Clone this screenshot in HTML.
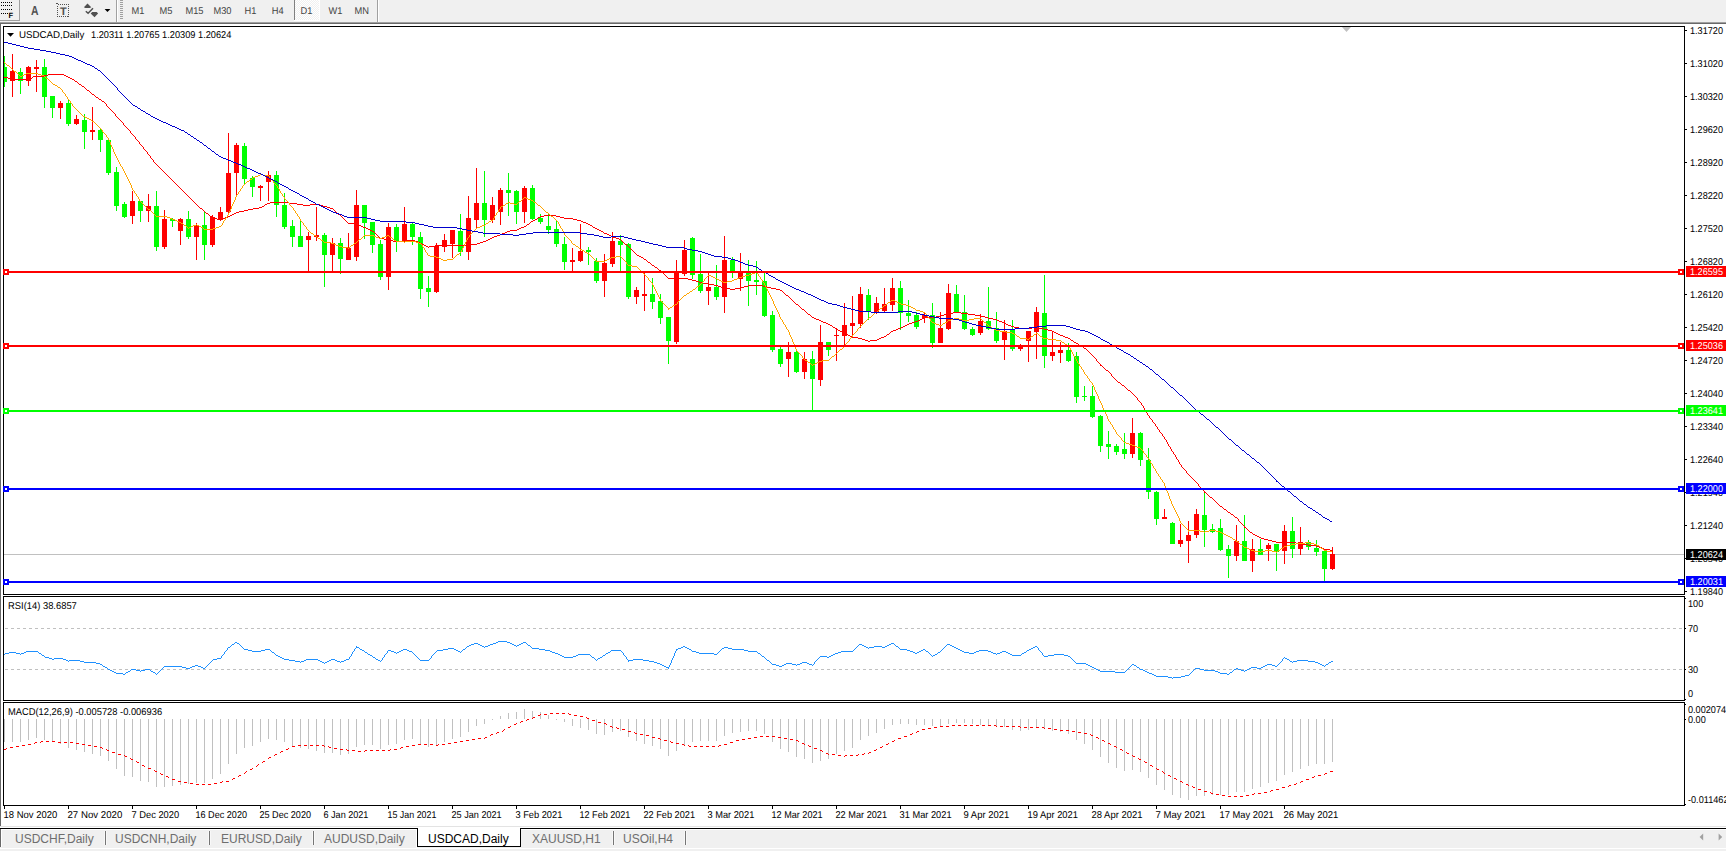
<!DOCTYPE html>
<html lang="en"><head><meta charset="utf-8"><title>USDCAD,Daily</title>
<style>
html,body{margin:0;padding:0;background:#fff;}
body{width:1726px;height:851px;overflow:hidden;position:relative;font-family:"Liberation Sans", Arial, sans-serif;}
#tb{position:absolute;left:0;top:0;width:1726px;height:22px;background:#f0f0f0;}
#tb .tf{position:absolute;top:5px;font-size:9.33px;line-height:11px;color:#4d4d4d;white-space:nowrap;}
#tabs{position:absolute;left:0;top:829px;width:1726px;height:22px;background:#f0f0f0;}
#tabs .t{position:absolute;top:3px;font-size:12px;line-height:14px;color:#6e6e6e;white-space:nowrap;}
#tabs .sep{position:absolute;top:2px;width:1px;height:14px;background:#757575;box-shadow:-1px 0 0 #f8f8f8,1px 0 0 #f8f8f8;}
svg{position:absolute;left:0;top:0;}
svg text{font-family:"Liberation Sans", Arial, sans-serif;font-size:9.9px;fill:#000;text-rendering:geometricPrecision;}
</style></head><body>
<svg width="1726" height="851" viewBox="0 0 1726 851" shape-rendering="crispEdges">
<rect x="0" y="22" width="1726" height="1" fill="#a0a0a0"/>
<rect x="0" y="23" width="1726" height="1" fill="#696969"/>
<rect x="0" y="24" width="1" height="802" fill="#696969"/>
<rect x="3" y="26" width="1682" height="1" fill="#000"/>
<rect x="3" y="594" width="1682" height="1" fill="#000"/>
<rect x="3" y="26" width="1" height="569" fill="#000"/>
<rect x="1684" y="26" width="1" height="569" fill="#000"/>
<rect x="3" y="596" width="1682" height="1" fill="#000"/>
<rect x="3" y="700" width="1682" height="1" fill="#000"/>
<rect x="3" y="596" width="1" height="105" fill="#000"/>
<rect x="1684" y="596" width="1" height="105" fill="#000"/>
<rect x="3" y="702" width="1682" height="1" fill="#000"/>
<rect x="3" y="805" width="1682" height="1" fill="#000"/>
<rect x="3" y="702" width="1" height="104" fill="#000"/>
<rect x="1684" y="702" width="1" height="104" fill="#000"/>
<polygon points="1342,27 1351,27 1346.5,32" fill="#c0c0c0" shape-rendering="auto"/>
<defs><clipPath id="cm"><rect x="4" y="27" width="1680" height="567"/></clipPath></defs>
<g clip-path="url(#cm)">
<rect x="4" y="554" width="1680" height="1" fill="#c0c0c0"/>
<rect x="4" y="56" width="1" height="31" fill="#00ff00"/>
<rect x="2" y="67" width="5" height="15" fill="#00ff00"/>
<rect x="12" y="54" width="1" height="43" fill="#ff0000"/>
<rect x="10" y="71" width="5" height="10" fill="#ff0000"/>
<rect x="20" y="68" width="1" height="26" fill="#00ff00"/>
<rect x="18" y="72" width="5" height="9" fill="#00ff00"/>
<rect x="28" y="66" width="1" height="20" fill="#ff0000"/>
<rect x="26" y="67" width="5" height="14" fill="#ff0000"/>
<rect x="36" y="60" width="1" height="32" fill="#ff0000"/>
<rect x="34" y="67" width="5" height="2" fill="#ff0000"/>
<rect x="44" y="59" width="1" height="49" fill="#00ff00"/>
<rect x="42" y="67" width="5" height="30" fill="#00ff00"/>
<rect x="52" y="96" width="1" height="22" fill="#00ff00"/>
<rect x="50" y="96" width="5" height="12" fill="#00ff00"/>
<rect x="60" y="101" width="1" height="18" fill="#ff0000"/>
<rect x="58" y="103" width="5" height="5" fill="#ff0000"/>
<rect x="68" y="100" width="1" height="26" fill="#00ff00"/>
<rect x="66" y="103" width="5" height="21" fill="#00ff00"/>
<rect x="76" y="115" width="1" height="10" fill="#ff0000"/>
<rect x="74" y="119" width="5" height="5" fill="#ff0000"/>
<rect x="84" y="114" width="1" height="35" fill="#00ff00"/>
<rect x="82" y="120" width="5" height="12" fill="#00ff00"/>
<rect x="92" y="107" width="1" height="33" fill="#ff0000"/>
<rect x="90" y="130" width="5" height="2" fill="#ff0000"/>
<rect x="100" y="129" width="1" height="23" fill="#00ff00"/>
<rect x="98" y="130" width="5" height="10" fill="#00ff00"/>
<rect x="108" y="140" width="1" height="35" fill="#00ff00"/>
<rect x="106" y="140" width="5" height="33" fill="#00ff00"/>
<rect x="116" y="167" width="1" height="44" fill="#00ff00"/>
<rect x="114" y="172" width="5" height="34" fill="#00ff00"/>
<rect x="124" y="202" width="1" height="16" fill="#00ff00"/>
<rect x="122" y="204" width="5" height="13" fill="#00ff00"/>
<rect x="132" y="191" width="1" height="33" fill="#ff0000"/>
<rect x="130" y="201" width="5" height="15" fill="#ff0000"/>
<rect x="140" y="201" width="1" height="21" fill="#00ff00"/>
<rect x="138" y="201" width="5" height="10" fill="#00ff00"/>
<rect x="148" y="194" width="1" height="28" fill="#ff0000"/>
<rect x="146" y="206" width="5" height="5" fill="#ff0000"/>
<rect x="156" y="191" width="1" height="60" fill="#00ff00"/>
<rect x="154" y="206" width="5" height="41" fill="#00ff00"/>
<rect x="164" y="210" width="1" height="39" fill="#ff0000"/>
<rect x="162" y="219" width="5" height="28" fill="#ff0000"/>
<rect x="172" y="218" width="1" height="9" fill="#00ff00"/>
<rect x="170" y="219" width="5" height="2" fill="#00ff00"/>
<rect x="180" y="218" width="1" height="27" fill="#ff0000"/>
<rect x="178" y="219" width="5" height="12" fill="#ff0000"/>
<rect x="188" y="211" width="1" height="28" fill="#00ff00"/>
<rect x="186" y="219" width="5" height="18" fill="#00ff00"/>
<rect x="196" y="223" width="1" height="37" fill="#ff0000"/>
<rect x="194" y="225" width="5" height="12" fill="#ff0000"/>
<rect x="204" y="212" width="1" height="48" fill="#00ff00"/>
<rect x="202" y="225" width="5" height="20" fill="#00ff00"/>
<rect x="212" y="215" width="1" height="32" fill="#ff0000"/>
<rect x="210" y="217" width="5" height="28" fill="#ff0000"/>
<rect x="220" y="207" width="1" height="14" fill="#ff0000"/>
<rect x="218" y="212" width="5" height="7" fill="#ff0000"/>
<rect x="228" y="133" width="1" height="80" fill="#ff0000"/>
<rect x="226" y="173" width="5" height="39" fill="#ff0000"/>
<rect x="236" y="143" width="1" height="54" fill="#ff0000"/>
<rect x="234" y="145" width="5" height="28" fill="#ff0000"/>
<rect x="244" y="143" width="1" height="41" fill="#00ff00"/>
<rect x="242" y="146" width="5" height="33" fill="#00ff00"/>
<rect x="252" y="176" width="1" height="21" fill="#00ff00"/>
<rect x="250" y="178" width="5" height="9" fill="#00ff00"/>
<rect x="260" y="185" width="1" height="16" fill="#ff0000"/>
<rect x="258" y="186" width="5" height="2" fill="#ff0000"/>
<rect x="268" y="171" width="1" height="30" fill="#ff0000"/>
<rect x="266" y="175" width="5" height="7" fill="#ff0000"/>
<rect x="276" y="171" width="1" height="46" fill="#00ff00"/>
<rect x="274" y="175" width="5" height="30" fill="#00ff00"/>
<rect x="284" y="193" width="1" height="36" fill="#00ff00"/>
<rect x="282" y="205" width="5" height="22" fill="#00ff00"/>
<rect x="292" y="220" width="1" height="27" fill="#00ff00"/>
<rect x="290" y="226" width="5" height="11" fill="#00ff00"/>
<rect x="300" y="221" width="1" height="26" fill="#00ff00"/>
<rect x="298" y="236" width="5" height="11" fill="#00ff00"/>
<rect x="308" y="232" width="1" height="39" fill="#ff0000"/>
<rect x="306" y="236" width="5" height="4" fill="#ff0000"/>
<rect x="316" y="207" width="1" height="34" fill="#ff0000"/>
<rect x="314" y="235" width="5" height="2" fill="#ff0000"/>
<rect x="324" y="233" width="1" height="54" fill="#00ff00"/>
<rect x="322" y="235" width="5" height="20" fill="#00ff00"/>
<rect x="332" y="238" width="1" height="33" fill="#ff0000"/>
<rect x="330" y="243" width="5" height="12" fill="#ff0000"/>
<rect x="340" y="238" width="1" height="36" fill="#00ff00"/>
<rect x="338" y="243" width="5" height="16" fill="#00ff00"/>
<rect x="348" y="233" width="1" height="27" fill="#ff0000"/>
<rect x="346" y="248" width="5" height="12" fill="#ff0000"/>
<rect x="356" y="190" width="1" height="71" fill="#ff0000"/>
<rect x="354" y="205" width="5" height="52" fill="#ff0000"/>
<rect x="364" y="205" width="1" height="34" fill="#00ff00"/>
<rect x="362" y="205" width="5" height="18" fill="#00ff00"/>
<rect x="372" y="222" width="1" height="31" fill="#00ff00"/>
<rect x="370" y="222" width="5" height="23" fill="#00ff00"/>
<rect x="380" y="240" width="1" height="40" fill="#00ff00"/>
<rect x="378" y="244" width="5" height="33" fill="#00ff00"/>
<rect x="388" y="223" width="1" height="67" fill="#ff0000"/>
<rect x="386" y="227" width="5" height="50" fill="#ff0000"/>
<rect x="396" y="224" width="1" height="28" fill="#00ff00"/>
<rect x="394" y="227" width="5" height="14" fill="#00ff00"/>
<rect x="404" y="207" width="1" height="35" fill="#ff0000"/>
<rect x="402" y="224" width="5" height="17" fill="#ff0000"/>
<rect x="412" y="222" width="1" height="23" fill="#00ff00"/>
<rect x="410" y="224" width="5" height="13" fill="#00ff00"/>
<rect x="420" y="232" width="1" height="67" fill="#00ff00"/>
<rect x="418" y="237" width="5" height="52" fill="#00ff00"/>
<rect x="428" y="276" width="1" height="31" fill="#00ff00"/>
<rect x="426" y="288" width="5" height="4" fill="#00ff00"/>
<rect x="436" y="243" width="1" height="50" fill="#ff0000"/>
<rect x="434" y="246" width="5" height="46" fill="#ff0000"/>
<rect x="444" y="234" width="1" height="18" fill="#ff0000"/>
<rect x="442" y="240" width="5" height="7" fill="#ff0000"/>
<rect x="452" y="230" width="1" height="28" fill="#ff0000"/>
<rect x="450" y="230" width="5" height="14" fill="#ff0000"/>
<rect x="460" y="214" width="1" height="42" fill="#00ff00"/>
<rect x="458" y="231" width="5" height="21" fill="#00ff00"/>
<rect x="468" y="196" width="1" height="64" fill="#ff0000"/>
<rect x="466" y="218" width="5" height="34" fill="#ff0000"/>
<rect x="476" y="168" width="1" height="61" fill="#ff0000"/>
<rect x="474" y="203" width="5" height="17" fill="#ff0000"/>
<rect x="484" y="171" width="1" height="66" fill="#00ff00"/>
<rect x="482" y="203" width="5" height="17" fill="#00ff00"/>
<rect x="492" y="197" width="1" height="26" fill="#ff0000"/>
<rect x="490" y="205" width="5" height="15" fill="#ff0000"/>
<rect x="500" y="188" width="1" height="37" fill="#ff0000"/>
<rect x="498" y="190" width="5" height="22" fill="#ff0000"/>
<rect x="508" y="173" width="1" height="43" fill="#00ff00"/>
<rect x="506" y="190" width="5" height="3" fill="#00ff00"/>
<rect x="516" y="190" width="1" height="34" fill="#00ff00"/>
<rect x="514" y="191" width="5" height="21" fill="#00ff00"/>
<rect x="524" y="186" width="1" height="37" fill="#ff0000"/>
<rect x="522" y="188" width="5" height="24" fill="#ff0000"/>
<rect x="532" y="185" width="1" height="35" fill="#00ff00"/>
<rect x="530" y="188" width="5" height="31" fill="#00ff00"/>
<rect x="540" y="214" width="1" height="10" fill="#00ff00"/>
<rect x="538" y="218" width="5" height="4" fill="#00ff00"/>
<rect x="548" y="214" width="1" height="20" fill="#00ff00"/>
<rect x="546" y="226" width="5" height="4" fill="#00ff00"/>
<rect x="556" y="221" width="1" height="26" fill="#00ff00"/>
<rect x="554" y="229" width="5" height="15" fill="#00ff00"/>
<rect x="564" y="237" width="1" height="33" fill="#00ff00"/>
<rect x="562" y="244" width="5" height="18" fill="#00ff00"/>
<rect x="572" y="248" width="1" height="23" fill="#ff0000"/>
<rect x="570" y="260" width="5" height="2" fill="#ff0000"/>
<rect x="580" y="224" width="1" height="38" fill="#ff0000"/>
<rect x="578" y="251" width="5" height="10" fill="#ff0000"/>
<rect x="588" y="247" width="1" height="18" fill="#00ff00"/>
<rect x="586" y="250" width="5" height="2" fill="#00ff00"/>
<rect x="596" y="258" width="1" height="25" fill="#00ff00"/>
<rect x="594" y="261" width="5" height="20" fill="#00ff00"/>
<rect x="604" y="254" width="1" height="43" fill="#ff0000"/>
<rect x="602" y="263" width="5" height="18" fill="#ff0000"/>
<rect x="612" y="232" width="1" height="35" fill="#ff0000"/>
<rect x="610" y="241" width="5" height="23" fill="#ff0000"/>
<rect x="620" y="235" width="1" height="36" fill="#00ff00"/>
<rect x="618" y="241" width="5" height="4" fill="#00ff00"/>
<rect x="628" y="243" width="1" height="56" fill="#00ff00"/>
<rect x="626" y="244" width="5" height="53" fill="#00ff00"/>
<rect x="636" y="287" width="1" height="17" fill="#ff0000"/>
<rect x="634" y="290" width="5" height="7" fill="#ff0000"/>
<rect x="644" y="273" width="1" height="38" fill="#ff0000"/>
<rect x="642" y="294" width="5" height="2" fill="#ff0000"/>
<rect x="652" y="278" width="1" height="31" fill="#00ff00"/>
<rect x="650" y="294" width="5" height="8" fill="#00ff00"/>
<rect x="660" y="294" width="1" height="30" fill="#00ff00"/>
<rect x="658" y="301" width="5" height="17" fill="#00ff00"/>
<rect x="668" y="317" width="1" height="47" fill="#00ff00"/>
<rect x="666" y="317" width="5" height="24" fill="#00ff00"/>
<rect x="676" y="260" width="1" height="84" fill="#ff0000"/>
<rect x="674" y="272" width="5" height="70" fill="#ff0000"/>
<rect x="684" y="240" width="1" height="36" fill="#ff0000"/>
<rect x="682" y="250" width="5" height="24" fill="#ff0000"/>
<rect x="692" y="237" width="1" height="42" fill="#00ff00"/>
<rect x="690" y="238" width="5" height="37" fill="#00ff00"/>
<rect x="700" y="254" width="1" height="39" fill="#00ff00"/>
<rect x="698" y="274" width="5" height="17" fill="#00ff00"/>
<rect x="708" y="273" width="1" height="32" fill="#ff0000"/>
<rect x="706" y="287" width="5" height="4" fill="#ff0000"/>
<rect x="716" y="265" width="1" height="35" fill="#00ff00"/>
<rect x="714" y="287" width="5" height="10" fill="#00ff00"/>
<rect x="724" y="236" width="1" height="77" fill="#ff0000"/>
<rect x="722" y="260" width="5" height="37" fill="#ff0000"/>
<rect x="732" y="257" width="1" height="21" fill="#00ff00"/>
<rect x="730" y="260" width="5" height="11" fill="#00ff00"/>
<rect x="740" y="253" width="1" height="38" fill="#ff0000"/>
<rect x="738" y="272" width="5" height="7" fill="#ff0000"/>
<rect x="748" y="260" width="1" height="46" fill="#00ff00"/>
<rect x="746" y="272" width="5" height="9" fill="#00ff00"/>
<rect x="756" y="261" width="1" height="34" fill="#00ff00"/>
<rect x="754" y="280" width="5" height="2" fill="#00ff00"/>
<rect x="764" y="273" width="1" height="44" fill="#00ff00"/>
<rect x="762" y="281" width="5" height="35" fill="#00ff00"/>
<rect x="772" y="311" width="1" height="41" fill="#00ff00"/>
<rect x="770" y="315" width="5" height="35" fill="#00ff00"/>
<rect x="780" y="347" width="1" height="20" fill="#00ff00"/>
<rect x="778" y="349" width="5" height="15" fill="#00ff00"/>
<rect x="788" y="342" width="1" height="35" fill="#ff0000"/>
<rect x="786" y="352" width="5" height="7" fill="#ff0000"/>
<rect x="796" y="350" width="1" height="23" fill="#00ff00"/>
<rect x="794" y="352" width="5" height="20" fill="#00ff00"/>
<rect x="804" y="352" width="1" height="27" fill="#ff0000"/>
<rect x="802" y="359" width="5" height="13" fill="#ff0000"/>
<rect x="812" y="351" width="1" height="59" fill="#00ff00"/>
<rect x="810" y="359" width="5" height="20" fill="#00ff00"/>
<rect x="820" y="325" width="1" height="61" fill="#ff0000"/>
<rect x="818" y="342" width="5" height="38" fill="#ff0000"/>
<rect x="828" y="342" width="1" height="14" fill="#00ff00"/>
<rect x="826" y="342" width="5" height="8" fill="#00ff00"/>
<rect x="836" y="328" width="1" height="33" fill="#ff0000"/>
<rect x="834" y="335" width="5" height="1" fill="#ff0000"/>
<rect x="844" y="303" width="1" height="42" fill="#ff0000"/>
<rect x="842" y="325" width="5" height="11" fill="#ff0000"/>
<rect x="852" y="296" width="1" height="42" fill="#ff0000"/>
<rect x="850" y="323" width="5" height="3" fill="#ff0000"/>
<rect x="860" y="287" width="1" height="41" fill="#ff0000"/>
<rect x="858" y="294" width="5" height="30" fill="#ff0000"/>
<rect x="868" y="289" width="1" height="31" fill="#00ff00"/>
<rect x="866" y="295" width="5" height="16" fill="#00ff00"/>
<rect x="876" y="297" width="1" height="17" fill="#ff0000"/>
<rect x="874" y="303" width="5" height="9" fill="#ff0000"/>
<rect x="884" y="288" width="1" height="24" fill="#ff0000"/>
<rect x="882" y="304" width="5" height="7" fill="#ff0000"/>
<rect x="892" y="278" width="1" height="33" fill="#ff0000"/>
<rect x="890" y="288" width="5" height="17" fill="#ff0000"/>
<rect x="900" y="281" width="1" height="49" fill="#00ff00"/>
<rect x="898" y="288" width="5" height="25" fill="#00ff00"/>
<rect x="908" y="300" width="1" height="22" fill="#00ff00"/>
<rect x="906" y="313" width="5" height="3" fill="#00ff00"/>
<rect x="916" y="312" width="1" height="17" fill="#00ff00"/>
<rect x="914" y="315" width="5" height="12" fill="#00ff00"/>
<rect x="924" y="312" width="1" height="11" fill="#ff0000"/>
<rect x="922" y="315" width="5" height="3" fill="#ff0000"/>
<rect x="932" y="303" width="1" height="45" fill="#00ff00"/>
<rect x="930" y="315" width="5" height="28" fill="#00ff00"/>
<rect x="940" y="312" width="1" height="31" fill="#ff0000"/>
<rect x="938" y="328" width="5" height="15" fill="#ff0000"/>
<rect x="948" y="284" width="1" height="46" fill="#ff0000"/>
<rect x="946" y="293" width="5" height="36" fill="#ff0000"/>
<rect x="956" y="285" width="1" height="27" fill="#00ff00"/>
<rect x="954" y="294" width="5" height="18" fill="#00ff00"/>
<rect x="964" y="295" width="1" height="35" fill="#00ff00"/>
<rect x="962" y="312" width="5" height="17" fill="#00ff00"/>
<rect x="972" y="327" width="1" height="9" fill="#00ff00"/>
<rect x="970" y="329" width="5" height="6" fill="#00ff00"/>
<rect x="980" y="314" width="1" height="21" fill="#ff0000"/>
<rect x="978" y="321" width="5" height="12" fill="#ff0000"/>
<rect x="988" y="287" width="1" height="43" fill="#00ff00"/>
<rect x="986" y="321" width="5" height="8" fill="#00ff00"/>
<rect x="996" y="312" width="1" height="31" fill="#00ff00"/>
<rect x="994" y="328" width="5" height="13" fill="#00ff00"/>
<rect x="1004" y="320" width="1" height="40" fill="#ff0000"/>
<rect x="1002" y="331" width="5" height="9" fill="#ff0000"/>
<rect x="1012" y="320" width="1" height="31" fill="#00ff00"/>
<rect x="1010" y="330" width="5" height="19" fill="#00ff00"/>
<rect x="1020" y="344" width="1" height="7" fill="#ff0000"/>
<rect x="1018" y="346" width="5" height="3" fill="#ff0000"/>
<rect x="1028" y="331" width="1" height="31" fill="#ff0000"/>
<rect x="1026" y="331" width="5" height="10" fill="#ff0000"/>
<rect x="1036" y="307" width="1" height="52" fill="#ff0000"/>
<rect x="1034" y="312" width="5" height="20" fill="#ff0000"/>
<rect x="1044" y="275" width="1" height="93" fill="#00ff00"/>
<rect x="1042" y="313" width="5" height="43" fill="#00ff00"/>
<rect x="1052" y="331" width="1" height="30" fill="#ff0000"/>
<rect x="1050" y="352" width="5" height="4" fill="#ff0000"/>
<rect x="1060" y="342" width="1" height="21" fill="#ff0000"/>
<rect x="1058" y="350" width="5" height="3" fill="#ff0000"/>
<rect x="1068" y="343" width="1" height="19" fill="#00ff00"/>
<rect x="1066" y="350" width="5" height="11" fill="#00ff00"/>
<rect x="1076" y="352" width="1" height="51" fill="#00ff00"/>
<rect x="1074" y="356" width="5" height="41" fill="#00ff00"/>
<rect x="1084" y="386" width="1" height="15" fill="#00ff00"/>
<rect x="1082" y="396" width="5" height="1" fill="#00ff00"/>
<rect x="1092" y="386" width="1" height="32" fill="#00ff00"/>
<rect x="1090" y="396" width="5" height="21" fill="#00ff00"/>
<rect x="1100" y="415" width="1" height="37" fill="#00ff00"/>
<rect x="1098" y="416" width="5" height="30" fill="#00ff00"/>
<rect x="1108" y="431" width="1" height="28" fill="#00ff00"/>
<rect x="1106" y="444" width="5" height="3" fill="#00ff00"/>
<rect x="1116" y="444" width="1" height="11" fill="#00ff00"/>
<rect x="1114" y="446" width="5" height="6" fill="#00ff00"/>
<rect x="1124" y="433" width="1" height="26" fill="#00ff00"/>
<rect x="1122" y="449" width="5" height="5" fill="#00ff00"/>
<rect x="1132" y="418" width="1" height="40" fill="#ff0000"/>
<rect x="1130" y="433" width="5" height="21" fill="#ff0000"/>
<rect x="1140" y="432" width="1" height="34" fill="#00ff00"/>
<rect x="1138" y="433" width="5" height="27" fill="#00ff00"/>
<rect x="1148" y="448" width="1" height="51" fill="#00ff00"/>
<rect x="1146" y="460" width="5" height="32" fill="#00ff00"/>
<rect x="1156" y="491" width="1" height="34" fill="#00ff00"/>
<rect x="1154" y="492" width="5" height="27" fill="#00ff00"/>
<rect x="1164" y="509" width="1" height="10" fill="#ff0000"/>
<rect x="1162" y="517" width="5" height="2" fill="#ff0000"/>
<rect x="1172" y="522" width="1" height="22" fill="#00ff00"/>
<rect x="1170" y="523" width="5" height="21" fill="#00ff00"/>
<rect x="1180" y="524" width="1" height="23" fill="#ff0000"/>
<rect x="1178" y="540" width="5" height="4" fill="#ff0000"/>
<rect x="1188" y="521" width="1" height="42" fill="#ff0000"/>
<rect x="1186" y="535" width="5" height="6" fill="#ff0000"/>
<rect x="1196" y="509" width="1" height="29" fill="#ff0000"/>
<rect x="1194" y="514" width="5" height="21" fill="#ff0000"/>
<rect x="1204" y="491" width="1" height="56" fill="#00ff00"/>
<rect x="1202" y="515" width="5" height="15" fill="#00ff00"/>
<rect x="1212" y="524" width="1" height="9" fill="#00ff00"/>
<rect x="1210" y="529" width="5" height="3" fill="#00ff00"/>
<rect x="1220" y="519" width="1" height="32" fill="#00ff00"/>
<rect x="1218" y="528" width="5" height="22" fill="#00ff00"/>
<rect x="1228" y="545" width="1" height="33" fill="#00ff00"/>
<rect x="1226" y="549" width="5" height="7" fill="#00ff00"/>
<rect x="1236" y="525" width="1" height="36" fill="#ff0000"/>
<rect x="1234" y="541" width="5" height="15" fill="#ff0000"/>
<rect x="1244" y="515" width="1" height="46" fill="#00ff00"/>
<rect x="1242" y="541" width="5" height="20" fill="#00ff00"/>
<rect x="1252" y="539" width="1" height="33" fill="#ff0000"/>
<rect x="1250" y="549" width="5" height="12" fill="#ff0000"/>
<rect x="1260" y="539" width="1" height="16" fill="#00ff00"/>
<rect x="1258" y="549" width="5" height="6" fill="#00ff00"/>
<rect x="1268" y="543" width="1" height="18" fill="#ff0000"/>
<rect x="1266" y="545" width="5" height="4" fill="#ff0000"/>
<rect x="1276" y="544" width="1" height="27" fill="#00ff00"/>
<rect x="1274" y="544" width="5" height="8" fill="#00ff00"/>
<rect x="1284" y="525" width="1" height="39" fill="#ff0000"/>
<rect x="1282" y="531" width="5" height="20" fill="#ff0000"/>
<rect x="1292" y="517" width="1" height="41" fill="#00ff00"/>
<rect x="1290" y="531" width="5" height="18" fill="#00ff00"/>
<rect x="1300" y="527" width="1" height="28" fill="#ff0000"/>
<rect x="1298" y="542" width="5" height="7" fill="#ff0000"/>
<rect x="1308" y="540" width="1" height="10" fill="#00ff00"/>
<rect x="1306" y="542" width="5" height="5" fill="#00ff00"/>
<rect x="1316" y="540" width="1" height="16" fill="#00ff00"/>
<rect x="1314" y="548" width="5" height="4" fill="#00ff00"/>
<rect x="1324" y="550" width="1" height="31" fill="#00ff00"/>
<rect x="1322" y="551" width="5" height="18" fill="#00ff00"/>
<rect x="1332" y="547" width="1" height="23" fill="#ff0000"/>
<rect x="1330" y="554" width="5" height="15" fill="#ff0000"/>
<path d="M4 77h4v1h-4zM8 78h2v1h-2zM10 79h21v1h-21zM31 78h1v1h-1zM32 77h1v1h-1zM33 76h11v1h-11zM44 75h4v1h-4zM48 74h16v1h-16zM64 75h2v1h-2zM66 76h2v1h-2zM68 77h2v1h-2zM70 78h2v1h-2zM72 79h2v1h-2zM74 80h1v1h-1zM75 81h2v1h-2zM77 82h1v1h-1zM78 83h1v1h-1zM79 84h2v1h-2zM81 85h1v1h-1zM82 86h2v1h-2zM84 87h1v1h-1zM85 88h1v1h-1zM86 89h1v1h-1zM87 90h2v1h-2zM89 91h1v1h-1zM90 92h1v1h-1zM91 93h1v1h-1zM92 94h2v1h-2zM94 95h1v1h-1zM95 96h1v1h-1zM96 97h2v1h-2zM98 98h1v1h-1zM99 99h2v1h-2zM101 100h1v1h-1zM102 101h2v1h-2zM104 102h1v1h-1zM105 103h1v1h-1zM106 104h1v2h-1zM107 106h1v1h-1zM108 107h1v1h-1zM109 108h1v1h-1zM110 109h1v1h-1zM111 110h1v1h-1zM112 111h1v1h-1zM113 112h1v1h-1zM114 113h1v1h-1zM115 114h1v2h-1zM116 116h1v1h-1zM117 117h1v1h-1zM118 118h1v1h-1zM119 119h1v1h-1zM120 120h1v1h-1zM121 121h1v1h-1zM122 122h1v1h-1zM123 123h1v2h-1zM124 125h1v1h-1zM125 126h1v1h-1zM126 127h1v1h-1zM127 128h1v1h-1zM128 129h1v1h-1zM129 130h1v1h-1zM130 131h1v2h-1zM131 133h1v1h-1zM132 134h1v1h-1zM133 135h1v1h-1zM134 136h1v1h-1zM135 137h1v2h-1zM136 139h1v1h-1zM137 140h1v1h-1zM138 141h1v1h-1zM139 142h1v2h-1zM140 144h1v1h-1zM141 145h1v1h-1zM142 146h1v1h-1zM143 147h1v2h-1zM144 149h1v1h-1zM145 150h1v1h-1zM146 151h1v1h-1zM147 152h1v2h-1zM148 154h1v1h-1zM149 155h1v1h-1zM150 156h1v2h-1zM151 158h1v1h-1zM152 159h1v1h-1zM153 160h1v2h-1zM154 162h1v1h-1zM155 163h1v1h-1zM156 164h1v1h-1zM157 165h1v1h-1zM158 166h1v1h-1zM159 167h1v1h-1zM160 168h1v1h-1zM161 169h1v1h-1zM162 170h1v1h-1zM163 171h1v1h-1zM164 172h1v1h-1zM165 173h1v1h-1zM166 174h1v1h-1zM167 175h1v1h-1zM168 176h1v1h-1zM169 177h1v1h-1zM170 178h1v1h-1zM171 179h1v1h-1zM172 180h1v1h-1zM173 181h1v1h-1zM174 182h1v1h-1zM175 183h1v1h-1zM176 184h1v1h-1zM177 185h1v1h-1zM178 186h1v1h-1zM179 187h1v1h-1zM180 188h1v1h-1zM181 189h1v1h-1zM182 190h1v1h-1zM183 191h1v1h-1zM184 192h1v1h-1zM185 193h1v1h-1zM186 194h1v1h-1zM187 195h1v1h-1zM188 196h1v1h-1zM189 197h1v1h-1zM190 198h1v1h-1zM191 199h1v1h-1zM192 200h1v1h-1zM193 201h1v1h-1zM194 202h1v1h-1zM195 203h1v1h-1zM196 204h1v1h-1zM197 205h1v1h-1zM198 206h1v1h-1zM199 207h1v1h-1zM200 208h2v1h-2zM202 209h1v1h-1zM203 210h1v1h-1zM204 211h1v1h-1zM205 212h1v1h-1zM206 213h2v1h-2zM208 214h1v1h-1zM209 215h1v1h-1zM210 216h2v1h-2zM212 217h2v1h-2zM214 218h3v1h-3zM217 219h3v1h-3zM220 220h1v1h-1zM221 219h2v1h-2zM223 218h2v1h-2zM225 217h3v1h-3zM228 216h2v1h-2zM230 215h2v1h-2zM232 214h2v1h-2zM234 213h2v1h-2zM236 212h3v1h-3zM239 211h5v1h-5zM244 210h4v1h-4zM248 209h5v1h-5zM253 208h6v1h-6zM259 207h3v1h-3zM262 206h2v1h-2zM264 205h1v1h-1zM265 204h2v1h-2zM267 203h3v1h-3zM270 202h19v1h-19zM289 203h8v1h-8zM297 204h6v1h-6zM303 205h7v1h-7zM310 204h10v1h-10zM320 205h3v1h-3zM323 206h4v1h-4zM327 207h3v1h-3zM330 208h3v1h-3zM333 209h1v1h-1zM334 210h1v1h-1zM335 211h1v1h-1zM336 212h1v1h-1zM337 213h1v1h-1zM338 214h2v1h-2zM340 215h1v1h-1zM341 216h1v1h-1zM342 217h1v1h-1zM343 218h1v1h-1zM344 219h1v1h-1zM345 220h1v1h-1zM346 221h1v1h-1zM347 222h1v1h-1zM348 223h8v1h-8zM356 224h3v1h-3zM359 225h2v1h-2zM361 226h2v1h-2zM363 227h3v1h-3zM366 228h2v1h-2zM368 229h2v1h-2zM370 230h2v1h-2zM372 231h2v1h-2zM374 232h1v1h-1zM375 233h1v1h-1zM376 234h1v1h-1zM377 235h1v1h-1zM378 236h1v1h-1zM379 237h1v1h-1zM380 238h4v1h-4zM384 239h4v1h-4zM388 240h5v1h-5zM393 241h10v1h-10zM403 240h12v1h-12zM415 241h3v1h-3zM418 242h2v1h-2zM420 243h2v1h-2zM422 244h2v1h-2zM424 245h2v1h-2zM426 246h2v1h-2zM428 247h1v1h-1zM429 246h6v1h-6zM435 245h34v1h-34zM469 244h8v1h-8zM477 243h3v1h-3zM480 242h3v1h-3zM483 241h3v1h-3zM486 240h2v1h-2zM488 239h2v1h-2zM490 238h2v1h-2zM492 237h2v1h-2zM494 236h3v1h-3zM497 235h3v1h-3zM500 234h2v1h-2zM502 233h3v1h-3zM505 232h2v1h-2zM507 231h3v1h-3zM510 230h7v1h-7zM517 229h2v1h-2zM519 228h2v1h-2zM521 227h3v1h-3zM524 226h2v1h-2zM526 225h1v1h-1zM527 224h2v1h-2zM529 223h1v1h-1zM530 222h1v1h-1zM531 221h2v1h-2zM533 220h2v1h-2zM535 219h2v1h-2zM537 218h1v1h-1zM538 217h2v1h-2zM540 216h4v1h-4zM544 215h12v1h-12zM556 216h4v1h-4zM560 217h4v1h-4zM564 218h9v1h-9zM573 219h4v1h-4zM577 220h4v1h-4zM581 221h2v1h-2zM583 222h3v1h-3zM586 223h2v1h-2zM588 224h2v1h-2zM590 225h2v1h-2zM592 226h1v1h-1zM593 227h2v1h-2zM595 228h2v1h-2zM597 229h2v1h-2zM599 230h2v1h-2zM601 231h2v1h-2zM603 232h1v1h-1zM604 233h3v1h-3zM607 234h2v1h-2zM609 235h2v1h-2zM611 236h2v1h-2zM613 237h3v1h-3zM616 238h3v1h-3zM619 239h2v1h-2zM621 240h1v1h-1zM622 241h1v1h-1zM623 242h1v1h-1zM624 243h1v1h-1zM625 244h2v1h-2zM627 245h1v1h-1zM628 246h1v1h-1zM629 247h1v1h-1zM630 248h1v1h-1zM631 249h1v1h-1zM632 250h1v1h-1zM633 251h1v1h-1zM634 252h1v1h-1zM635 253h1v1h-1zM636 254h1v1h-1zM637 255h2v1h-2zM639 256h2v1h-2zM641 257h2v1h-2zM643 258h1v1h-1zM644 259h2v1h-2zM646 260h1v1h-1zM647 261h1v1h-1zM648 262h2v1h-2zM650 263h1v1h-1zM651 264h1v1h-1zM652 265h2v1h-2zM654 266h1v1h-1zM655 267h2v1h-2zM657 268h1v1h-1zM658 269h1v1h-1zM659 270h2v1h-2zM661 271h1v1h-1zM662 272h1v1h-1zM663 273h1v1h-1zM664 274h1v1h-1zM665 275h1v1h-1zM666 276h1v1h-1zM667 277h1v1h-1zM668 278h8v1h-8zM676 279h1v1h-1zM677 278h11v1h-11zM688 279h4v1h-4zM692 280h4v1h-4zM696 281h3v1h-3zM699 282h4v1h-4zM703 283h5v1h-5zM708 284h6v1h-6zM714 285h4v1h-4zM718 286h3v1h-3zM721 287h3v1h-3zM724 288h6v1h-6zM730 289h5v1h-5zM735 288h6v1h-6zM741 287h3v1h-3zM744 286h4v1h-4zM748 285h15v1h-15zM763 286h4v1h-4zM767 287h4v1h-4zM771 288h5v1h-5zM776 289h4v1h-4zM780 290h2v1h-2zM782 291h1v1h-1zM783 292h1v1h-1zM784 293h1v1h-1zM785 294h1v1h-1zM786 295h2v1h-2zM788 296h1v1h-1zM789 297h1v1h-1zM790 298h1v1h-1zM791 299h1v1h-1zM792 300h1v1h-1zM793 301h1v1h-1zM794 302h1v1h-1zM795 303h1v1h-1zM796 304h2v1h-2zM798 305h1v1h-1zM799 306h1v1h-1zM800 307h1v1h-1zM801 308h1v1h-1zM802 309h2v1h-2zM804 310h1v1h-1zM805 311h1v1h-1zM806 312h1v1h-1zM807 313h1v1h-1zM808 314h2v1h-2zM810 315h1v1h-1zM811 316h1v1h-1zM812 317h2v1h-2zM814 318h2v1h-2zM816 319h3v1h-3zM819 320h2v1h-2zM821 321h2v1h-2zM823 322h3v1h-3zM826 323h2v1h-2zM828 324h2v1h-2zM830 325h2v1h-2zM832 326h1v1h-1zM833 327h2v1h-2zM835 328h1v1h-1zM836 329h2v1h-2zM838 330h2v1h-2zM840 331h2v1h-2zM842 332h2v1h-2zM844 333h2v1h-2zM846 334h2v1h-2zM848 335h2v1h-2zM850 336h2v1h-2zM852 337h6v1h-6zM858 338h4v1h-4zM862 339h3v1h-3zM865 340h3v1h-3zM868 341h2v1h-2zM870 340h7v1h-7zM877 339h2v1h-2zM879 338h2v1h-2zM881 337h3v1h-3zM884 336h2v1h-2zM886 335h1v1h-1zM887 334h2v1h-2zM889 333h1v1h-1zM890 332h1v1h-1zM891 331h2v1h-2zM893 330h3v1h-3zM896 329h2v1h-2zM898 328h3v1h-3zM901 327h2v1h-2zM903 326h2v1h-2zM905 325h2v1h-2zM907 324h2v1h-2zM909 323h3v1h-3zM912 322h3v1h-3zM915 321h3v1h-3zM918 320h2v1h-2zM920 319h2v1h-2zM922 318h2v1h-2zM924 317h8v1h-8zM932 318h1v1h-1zM933 317h3v1h-3zM936 316h4v1h-4zM940 315h4v1h-4zM944 314h4v1h-4zM948 313h5v1h-5zM953 312h8v1h-8zM961 313h7v1h-7zM968 314h7v1h-7zM975 315h6v1h-6zM981 316h4v1h-4zM985 317h3v1h-3zM988 318h5v1h-5zM993 319h4v1h-4zM997 320h2v1h-2zM999 321h3v1h-3zM1002 322h2v1h-2zM1004 323h2v1h-2zM1006 324h2v1h-2zM1008 325h3v1h-3zM1011 326h3v1h-3zM1014 327h5v1h-5zM1019 328h13v1h-13zM1032 327h7v1h-7zM1039 328h5v1h-5zM1044 329h4v1h-4zM1048 330h4v1h-4zM1052 331h2v1h-2zM1054 332h2v1h-2zM1056 333h2v1h-2zM1058 334h2v1h-2zM1060 335h3v1h-3zM1063 336h2v1h-2zM1065 337h3v1h-3zM1068 338h2v1h-2zM1070 339h1v1h-1zM1071 340h2v1h-2zM1073 341h1v1h-1zM1074 342h2v1h-2zM1076 343h2v1h-2zM1078 344h1v1h-1zM1079 345h2v1h-2zM1081 346h2v1h-2zM1083 347h1v1h-1zM1084 348h2v1h-2zM1086 349h1v1h-1zM1087 350h1v1h-1zM1088 351h1v1h-1zM1089 352h1v1h-1zM1090 353h1v1h-1zM1091 354h1v1h-1zM1092 355h1v1h-1zM1093 356h1v1h-1zM1094 357h1v1h-1zM1095 358h1v1h-1zM1096 359h1v2h-1zM1097 361h1v1h-1zM1098 362h1v1h-1zM1099 363h1v1h-1zM1100 364h1v2h-1zM1101 365h1v1h-1zM1102 366h1v1h-1zM1103 367h1v1h-1zM1104 368h1v1h-1zM1105 369h1v1h-1zM1106 370h2v1h-2zM1108 371h1v1h-1zM1109 372h1v1h-1zM1110 373h1v1h-1zM1111 374h1v2h-1zM1112 376h1v1h-1zM1113 377h1v1h-1zM1114 378h1v1h-1zM1115 379h1v1h-1zM1116 380h1v1h-1zM1117 381h1v1h-1zM1118 382h2v1h-2zM1120 383h1v1h-1zM1121 384h1v1h-1zM1122 385h2v1h-2zM1124 386h1v1h-1zM1125 387h1v1h-1zM1126 388h1v1h-1zM1127 389h1v1h-1zM1128 390h2v1h-2zM1130 391h1v1h-1zM1131 392h1v1h-1zM1132 393h1v1h-1zM1133 394h1v1h-1zM1134 395h1v1h-1zM1135 396h1v1h-1zM1136 397h1v1h-1zM1137 398h1v2h-1zM1138 400h1v1h-1zM1139 401h1v1h-1zM1140 402h1v1h-1zM1141 403h1v2h-1zM1142 405h1v1h-1zM1143 406h1v2h-1zM1144 408h1v2h-1zM1145 410h1v1h-1zM1146 411h1v2h-1zM1147 413h1v2h-1zM1148 415h1v1h-1zM1149 416h1v2h-1zM1150 418h1v1h-1zM1151 419h1v1h-1zM1152 420h1v2h-1zM1153 422h1v1h-1zM1154 423h1v1h-1zM1155 424h1v2h-1zM1156 426h1v1h-1zM1157 427h1v2h-1zM1158 429h1v1h-1zM1159 430h1v2h-1zM1160 432h1v1h-1zM1161 433h1v1h-1zM1162 434h1v2h-1zM1163 436h1v1h-1zM1164 437h1v2h-1zM1165 439h1v1h-1zM1166 440h1v2h-1zM1167 442h1v2h-1zM1168 444h1v2h-1zM1169 446h1v1h-1zM1170 447h1v2h-1zM1171 449h1v2h-1zM1172 451h1v1h-1zM1173 452h1v2h-1zM1174 454h1v1h-1zM1175 455h1v2h-1zM1176 457h1v2h-1zM1177 459h1v1h-1zM1178 460h1v2h-1zM1179 462h1v2h-1zM1180 464h1v1h-1zM1181 465h1v2h-1zM1182 467h1v1h-1zM1183 468h1v1h-1zM1184 469h1v1h-1zM1185 470h1v1h-1zM1186 471h1v2h-1zM1187 473h1v1h-1zM1188 474h1v1h-1zM1189 475h1v1h-1zM1190 476h1v1h-1zM1191 477h1v1h-1zM1192 478h1v1h-1zM1193 479h1v1h-1zM1194 480h1v1h-1zM1195 481h1v1h-1zM1196 482h1v1h-1zM1197 483h1v1h-1zM1198 484h1v2h-1zM1199 486h1v1h-1zM1200 487h1v1h-1zM1201 488h1v1h-1zM1202 489h1v1h-1zM1203 490h1v1h-1zM1204 491h1v2h-1zM1205 492h1v1h-1zM1206 493h1v1h-1zM1207 494h1v1h-1zM1208 495h1v1h-1zM1209 496h1v1h-1zM1210 497h2v1h-2zM1212 498h1v1h-1zM1213 499h1v1h-1zM1214 500h1v1h-1zM1215 501h1v1h-1zM1216 502h1v1h-1zM1217 503h1v1h-1zM1218 504h1v1h-1zM1219 505h1v1h-1zM1220 506h2v1h-2zM1222 507h1v1h-1zM1223 508h1v1h-1zM1224 509h2v1h-2zM1226 510h1v1h-1zM1227 511h1v1h-1zM1228 512h2v1h-2zM1230 513h1v1h-1zM1231 514h2v1h-2zM1233 515h1v1h-1zM1234 516h1v1h-1zM1235 517h2v1h-2zM1237 518h1v1h-1zM1238 519h1v2h-1zM1239 521h1v1h-1zM1240 522h1v1h-1zM1241 523h1v1h-1zM1242 524h1v1h-1zM1243 525h1v1h-1zM1244 526h1v2h-1zM1245 527h1v1h-1zM1246 528h1v1h-1zM1247 529h1v1h-1zM1248 530h1v1h-1zM1249 531h1v1h-1zM1250 532h2v1h-2zM1252 533h1v1h-1zM1253 534h2v1h-2zM1255 535h2v1h-2zM1257 536h2v1h-2zM1259 537h2v1h-2zM1261 538h3v1h-3zM1264 539h4v1h-4zM1268 540h4v1h-4zM1272 541h4v1h-4zM1276 542h20v1h-20zM1296 543h6v1h-6zM1302 544h6v1h-6zM1308 545h8v1h-8zM1316 546h3v1h-3zM1319 547h3v1h-3zM1322 548h2v1h-2zM1324 549h6v1h-6zM1330 550h2v1h-2z" fill="#ff0000"/>
<path d="M4 62h1v1h-1zM5 63h1v1h-1zM6 64h1v1h-1zM7 65h2v1h-2zM9 66h1v1h-1zM10 67h1v1h-1zM11 68h1v1h-1zM12 69h1v1h-1zM13 70h1v1h-1zM14 71h2v1h-2zM16 72h1v1h-1zM17 73h1v1h-1zM18 74h1v1h-1zM19 75h1v1h-1zM20 76h2v1h-2zM22 75h2v1h-2zM24 74h2v1h-2zM26 73h12v1h-12zM38 74h3v1h-3zM41 75h3v1h-3zM44 76h1v1h-1zM45 77h1v1h-1zM46 78h2v1h-2zM48 79h1v1h-1zM49 80h1v1h-1zM50 81h1v1h-1zM51 82h1v1h-1zM52 83h1v1h-1zM53 84h2v1h-2zM55 85h2v1h-2zM57 86h1v1h-1zM58 87h2v1h-2zM60 88h1v1h-1zM61 89h1v1h-1zM62 90h1v2h-1zM63 92h1v1h-1zM64 93h1v1h-1zM65 94h1v2h-1zM66 96h1v1h-1zM67 97h1v2h-1zM68 99h1v1h-1zM69 100h1v1h-1zM70 101h1v2h-1zM71 103h1v1h-1zM72 104h1v2h-1zM73 106h1v1h-1zM74 107h1v1h-1zM75 108h1v1h-1zM76 109h1v1h-1zM77 110h1v1h-1zM78 111h1v1h-1zM79 112h1v1h-1zM80 113h1v1h-1zM81 114h1v1h-1zM82 115h1v1h-1zM83 116h2v1h-2zM85 117h2v1h-2zM87 118h2v1h-2zM89 119h2v1h-2zM91 120h1v1h-1zM92 121h2v1h-2zM94 122h1v1h-1zM95 123h1v1h-1zM96 124h1v1h-1zM97 125h1v1h-1zM98 126h1v1h-1zM99 127h1v1h-1zM100 128h1v1h-1zM101 129h1v1h-1zM102 130h1v2h-1zM103 132h1v1h-1zM104 133h1v1h-1zM105 134h1v1h-1zM106 135h1v2h-1zM107 137h1v1h-1zM108 138h1v2h-1zM109 140h1v2h-1zM110 142h1v3h-1zM111 145h1v2h-1zM112 147h1v2h-1zM113 149h1v3h-1zM114 152h1v2h-1zM115 154h1v2h-1zM116 156h1v2h-1zM117 158h1v2h-1zM118 160h1v2h-1zM119 162h1v2h-1zM120 164h1v2h-1zM121 166h1v1h-1zM122 167h1v2h-1zM123 169h1v2h-1zM124 171h1v2h-1zM125 173h1v2h-1zM126 175h1v2h-1zM127 177h1v2h-1zM128 179h1v2h-1zM129 181h1v2h-1zM130 183h1v2h-1zM131 185h1v3h-1zM132 188h1v2h-1zM133 190h1v1h-1zM134 191h1v2h-1zM135 193h1v1h-1zM136 194h1v2h-1zM137 196h1v1h-1zM138 197h1v2h-1zM139 199h1v2h-1zM140 201h1v1h-1zM141 202h1v1h-1zM142 203h1v1h-1zM143 204h1v1h-1zM144 205h1v1h-1zM145 206h1v1h-1zM146 207h1v1h-1zM147 208h1v1h-1zM148 209h2v1h-2zM150 210h1v1h-1zM151 211h1v1h-1zM152 212h1v1h-1zM153 213h1v1h-1zM154 214h1v1h-1zM155 215h1v1h-1zM156 216h11v1h-11zM167 217h3v1h-3zM170 218h2v1h-2zM172 219h3v1h-3zM175 220h2v1h-2zM177 221h2v1h-2zM179 222h2v1h-2zM181 223h2v1h-2zM183 224h1v1h-1zM184 225h2v1h-2zM186 226h1v1h-1zM187 227h1v1h-1zM188 228h1v1h-1zM189 227h2v1h-2zM191 226h2v1h-2zM193 225h3v1h-3zM196 224h1v1h-1zM197 225h2v1h-2zM199 226h2v1h-2zM201 227h2v1h-2zM203 228h1v1h-1zM204 229h9v1h-9zM213 228h3v1h-3zM216 227h3v1h-3zM219 226h2v1h-2zM221 225h1v1h-1zM222 223h1v2h-1zM223 221h1v2h-1zM224 220h1v1h-1zM225 218h1v2h-1zM226 217h1v1h-1zM227 215h1v2h-1zM228 213h1v2h-1zM229 211h1v2h-1zM230 209h1v2h-1zM231 206h1v3h-1zM232 204h1v2h-1zM233 202h1v2h-1zM234 200h1v2h-1zM235 197h1v3h-1zM236 195h1v2h-1zM237 194h1v1h-1zM238 192h1v2h-1zM239 191h1v1h-1zM240 189h1v2h-1zM241 188h1v1h-1zM242 186h1v2h-1zM243 185h1v1h-1zM244 184h1v1h-1zM245 183h1v1h-1zM246 182h1v1h-1zM247 181h2v1h-2zM249 180h1v1h-1zM250 179h2v1h-2zM252 178h1v1h-1zM253 177h2v1h-2zM255 176h3v1h-3zM258 175h2v1h-2zM260 174h3v1h-3zM263 175h6v1h-6zM269 176h1v2h-1zM270 178h1v1h-1zM271 179h1v1h-1zM272 180h1v1h-1zM273 181h1v2h-1zM274 183h1v1h-1zM275 184h1v1h-1zM276 185h1v1h-1zM277 186h1v2h-1zM278 188h1v1h-1zM279 189h1v2h-1zM280 191h1v2h-1zM281 193h1v1h-1zM282 194h1v2h-1zM283 196h1v1h-1zM284 197h1v2h-1zM285 199h1v1h-1zM286 200h1v1h-1zM287 201h1v1h-1zM288 202h1v1h-1zM289 203h1v2h-1zM290 205h1v1h-1zM291 206h1v1h-1zM292 207h1v1h-1zM293 208h1v2h-1zM294 210h1v1h-1zM295 211h1v2h-1zM296 213h1v1h-1zM297 214h1v2h-1zM298 216h1v1h-1zM299 217h1v2h-1zM300 219h1v2h-1zM301 221h1v1h-1zM302 222h1v1h-1zM303 223h1v2h-1zM304 225h1v1h-1zM305 226h1v1h-1zM306 227h1v2h-1zM307 229h1v1h-1zM308 230h1v1h-1zM309 231h1v1h-1zM310 232h1v1h-1zM311 233h2v1h-2zM313 234h1v1h-1zM314 235h2v1h-2zM316 236h1v1h-1zM317 237h1v1h-1zM318 238h2v1h-2zM320 239h1v1h-1zM321 240h2v1h-2zM323 241h1v1h-1zM324 242h7v1h-7zM331 243h3v1h-3zM334 244h2v1h-2zM336 245h3v1h-3zM339 246h3v1h-3zM342 247h6v1h-6zM348 248h1v1h-1zM349 247h1v1h-1zM350 246h1v1h-1zM351 245h2v1h-2zM353 244h1v1h-1zM354 243h2v1h-2zM356 242h1v1h-1zM357 241h1v1h-1zM358 240h1v1h-1zM359 239h2v1h-2zM361 238h1v1h-1zM362 237h1v1h-1zM363 236h1v1h-1zM364 235h10v1h-10zM374 236h2v1h-2zM376 237h3v1h-3zM379 238h3v1h-3zM382 237h3v1h-3zM385 236h2v1h-2zM387 235h2v1h-2zM389 236h1v1h-1zM390 237h2v1h-2zM392 238h1v1h-1zM393 239h1v1h-1zM394 240h2v1h-2zM396 241h8v1h-8zM404 242h1v1h-1zM405 241h11v1h-11zM416 242h3v1h-3zM419 243h2v1h-2zM421 244h1v1h-1zM422 245h1v2h-1zM423 247h1v1h-1zM424 248h1v2h-1zM425 250h1v2h-1zM426 252h1v1h-1zM427 253h1v2h-1zM428 255h2v1h-2zM430 256h6v1h-6zM436 257h3v1h-3zM439 258h2v1h-2zM441 259h2v1h-2zM443 260h4v1h-4zM447 259h6v1h-6zM453 258h1v1h-1zM454 257h1v1h-1zM455 256h1v1h-1zM456 255h1v1h-1zM457 254h2v1h-2zM459 253h1v1h-1zM460 252h1v1h-1zM461 250h1v2h-1zM462 248h1v2h-1zM463 246h1v2h-1zM464 244h1v2h-1zM465 242h1v2h-1zM466 240h1v2h-1zM467 238h1v2h-1zM468 237h1v1h-1zM469 235h1v2h-1zM470 234h1v1h-1zM471 233h1v1h-1zM472 232h1v1h-1zM473 231h1v1h-1zM474 230h1v1h-1zM475 229h1v1h-1zM476 228h1v1h-1zM477 227h3v1h-3zM480 226h2v1h-2zM482 225h3v1h-3zM485 224h1v1h-1zM486 223h2v1h-2zM488 222h1v1h-1zM489 221h2v1h-2zM491 220h2v1h-2zM493 218h1v2h-1zM494 216h1v2h-1zM495 215h1v1h-1zM496 213h1v2h-1zM497 212h1v1h-1zM498 210h1v2h-1zM499 209h1v1h-1zM500 207h1v2h-1zM501 206h2v1h-2zM503 205h2v1h-2zM505 204h1v1h-1zM506 203h2v1h-2zM508 202h2v1h-2zM510 203h4v1h-4zM514 204h3v1h-3zM517 203h1v1h-1zM518 202h1v1h-1zM519 201h2v1h-2zM521 200h1v1h-1zM522 199h1v1h-1zM523 198h1v1h-1zM524 197h2v1h-2zM526 198h2v1h-2zM528 199h3v1h-3zM531 200h2v1h-2zM533 201h1v1h-1zM534 202h2v1h-2zM536 203h1v1h-1zM537 204h1v1h-1zM538 205h2v1h-2zM540 206h1v1h-1zM541 207h1v1h-1zM542 208h1v1h-1zM543 209h1v1h-1zM544 210h1v1h-1zM545 211h1v1h-1zM546 212h2v1h-2zM548 213h1v1h-1zM549 214h1v1h-1zM550 215h1v1h-1zM551 216h2v1h-2zM553 217h1v1h-1zM554 218h1v1h-1zM555 219h1v1h-1zM556 220h1v1h-1zM557 221h1v1h-1zM558 222h1v2h-1zM559 224h1v2h-1zM560 226h1v2h-1zM561 228h1v1h-1zM562 229h1v2h-1zM563 231h1v2h-1zM564 233h1v2h-1zM565 235h1v1h-1zM566 236h1v1h-1zM567 237h1v1h-1zM568 238h1v1h-1zM569 239h1v1h-1zM570 240h1v1h-1zM571 241h1v2h-1zM572 243h1v1h-1zM573 244h2v1h-2zM575 245h1v1h-1zM576 246h2v1h-2zM578 247h1v1h-1zM579 248h1v1h-1zM580 249h2v1h-2zM582 250h2v1h-2zM584 251h1v1h-1zM585 252h2v1h-2zM587 253h2v1h-2zM589 254h1v1h-1zM590 255h1v1h-1zM591 256h1v1h-1zM592 257h1v1h-1zM593 258h1v1h-1zM594 259h1v1h-1zM595 260h1v1h-1zM596 261h9v1h-9zM605 260h2v1h-2zM607 259h2v1h-2zM609 258h2v1h-2zM611 257h5v1h-5zM616 256h5v1h-5zM621 257h1v1h-1zM622 258h1v1h-1zM623 259h1v1h-1zM624 260h1v1h-1zM625 261h1v1h-1zM626 262h1v2h-1zM627 264h1v1h-1zM628 265h4v1h-4zM632 266h5v1h-5zM637 267h1v1h-1zM638 268h1v1h-1zM639 269h1v1h-1zM640 270h1v1h-1zM641 271h1v1h-1zM642 272h1v1h-1zM643 273h1v1h-1zM644 274h1v1h-1zM645 275h1v1h-1zM646 276h1v1h-1zM647 277h1v1h-1zM648 278h1v2h-1zM649 280h1v1h-1zM650 281h1v1h-1zM651 282h1v1h-1zM652 283h1v2h-1zM653 285h1v2h-1zM654 287h1v2h-1zM655 289h1v2h-1zM656 291h1v2h-1zM657 293h1v2h-1zM658 295h1v2h-1zM659 297h1v2h-1zM660 299h1v2h-1zM661 301h1v1h-1zM662 302h1v1h-1zM663 303h1v1h-1zM664 304h1v1h-1zM665 305h1v1h-1zM666 306h1v1h-1zM667 307h1v1h-1zM668 308h1v2h-1zM669 308h1v1h-1zM670 307h2v1h-2zM672 306h1v1h-1zM673 305h2v1h-2zM675 304h2v1h-2zM677 302h1v2h-1zM678 301h1v1h-1zM679 300h1v1h-1zM680 299h1v1h-1zM681 298h1v1h-1zM682 297h1v1h-1zM683 296h1v1h-1zM684 295h2v1h-2zM686 294h1v1h-1zM687 293h2v1h-2zM689 292h1v1h-1zM690 291h2v1h-2zM692 290h1v1h-1zM693 289h2v1h-2zM695 288h1v1h-1zM696 287h1v1h-1zM697 286h2v1h-2zM699 285h1v1h-1zM700 284h1v1h-1zM701 283h1v1h-1zM702 282h1v1h-1zM703 281h1v1h-1zM704 279h1v2h-1zM705 278h1v1h-1zM706 277h1v1h-1zM707 276h1v1h-1zM708 275h3v1h-3zM711 276h2v1h-2zM713 277h2v1h-2zM715 278h2v1h-2zM717 279h2v1h-2zM719 280h2v1h-2zM721 281h2v1h-2zM723 282h4v1h-4zM727 281h5v1h-5zM732 280h2v1h-2zM734 279h3v1h-3zM737 278h2v1h-2zM739 277h3v1h-3zM742 276h3v1h-3zM745 275h4v1h-4zM749 274h3v1h-3zM752 273h3v1h-3zM755 272h2v1h-2zM757 273h1v1h-1zM758 274h1v2h-1zM759 276h1v1h-1zM760 277h1v2h-1zM761 279h1v1h-1zM762 280h1v2h-1zM763 282h1v1h-1zM764 283h1v2h-1zM765 285h1v2h-1zM766 287h1v2h-1zM767 289h1v2h-1zM768 291h1v2h-1zM769 293h1v2h-1zM770 295h1v2h-1zM771 297h1v2h-1zM772 299h1v2h-1zM773 301h1v3h-1zM774 304h1v2h-1zM775 306h1v2h-1zM776 308h1v2h-1zM777 310h1v2h-1zM778 312h1v2h-1zM779 314h1v3h-1zM780 317h1v2h-1zM781 319h1v1h-1zM782 320h1v2h-1zM783 322h1v2h-1zM784 324h1v1h-1zM785 325h1v2h-1zM786 327h1v2h-1zM787 329h1v1h-1zM788 330h1v2h-1zM789 332h1v3h-1zM790 335h1v2h-1zM791 337h1v2h-1zM792 339h1v3h-1zM793 342h1v2h-1zM794 344h1v2h-1zM795 346h1v3h-1zM796 349h1v2h-1zM797 351h1v1h-1zM798 352h1v1h-1zM799 353h1v1h-1zM800 354h1v1h-1zM801 355h1v1h-1zM802 356h1v2h-1zM803 358h1v1h-1zM804 359h1v1h-1zM805 360h2v1h-2zM807 361h1v1h-1zM808 362h2v1h-2zM810 363h1v1h-1zM811 364h1v1h-1zM812 365h1v1h-1zM813 364h2v1h-2zM815 363h2v1h-2zM817 362h2v1h-2zM819 361h3v1h-3zM822 360h7v1h-7zM829 359h1v1h-1zM830 358h1v1h-1zM831 357h1v1h-1zM832 356h2v1h-2zM834 355h1v1h-1zM835 354h1v1h-1zM836 353h1v1h-1zM837 352h1v1h-1zM838 351h1v1h-1zM839 350h1v1h-1zM840 349h2v1h-2zM842 348h1v1h-1zM843 347h1v1h-1zM844 346h1v1h-1zM845 344h1v2h-1zM846 343h1v1h-1zM847 342h1v1h-1zM848 341h1v1h-1zM849 339h1v2h-1zM850 338h1v1h-1zM851 337h1v1h-1zM852 335h1v2h-1zM853 334h1v1h-1zM854 333h1v1h-1zM855 332h1v1h-1zM856 331h1v1h-1zM857 329h1v2h-1zM858 328h1v1h-1zM859 327h1v1h-1zM860 326h1v1h-1zM861 325h1v1h-1zM862 324h1v1h-1zM863 323h1v1h-1zM864 322h1v1h-1zM865 321h1v1h-1zM866 320h1v1h-1zM867 319h1v1h-1zM868 318h1v1h-1zM869 317h2v1h-2zM871 316h1v1h-1zM872 315h1v1h-1zM873 314h1v1h-1zM874 313h1v1h-1zM875 312h2v1h-2zM877 311h1v1h-1zM878 310h1v1h-1zM879 309h1v1h-1zM880 308h2v1h-2zM882 307h1v1h-1zM883 306h1v1h-1zM884 305h2v1h-2zM886 304h1v1h-1zM887 303h1v1h-1zM888 302h2v1h-2zM890 301h1v1h-1zM891 300h4v1h-4zM895 301h2v1h-2zM897 302h2v1h-2zM899 303h2v1h-2zM901 304h5v1h-5zM906 305h3v1h-3zM909 306h2v1h-2zM911 307h2v1h-2zM913 308h2v1h-2zM915 309h1v1h-1zM916 310h4v1h-4zM920 311h3v1h-3zM923 312h2v1h-2zM925 313h1v1h-1zM926 314h1v2h-1zM927 316h1v1h-1zM928 317h1v1h-1zM929 318h1v1h-1zM930 319h1v2h-1zM931 321h1v1h-1zM932 322h2v1h-2zM934 323h2v1h-2zM936 324h3v1h-3zM939 325h3v1h-3zM942 324h1v1h-1zM943 323h2v1h-2zM945 322h2v1h-2zM947 321h1v1h-1zM948 320h3v1h-3zM951 319h3v1h-3zM954 318h5v1h-5zM959 319h3v1h-3zM962 320h7v1h-7zM969 319h5v1h-5zM974 318h7v1h-7zM981 319h1v1h-1zM982 320h1v1h-1zM983 321h1v1h-1zM984 322h2v1h-2zM986 323h1v1h-1zM987 324h1v1h-1zM988 325h1v1h-1zM989 326h2v1h-2zM991 327h1v1h-1zM992 328h2v1h-2zM994 329h2v1h-2zM996 330h4v1h-4zM1000 331h6v1h-6zM1006 332h6v1h-6zM1012 333h2v1h-2zM1014 334h2v1h-2zM1016 335h1v1h-1zM1017 336h2v1h-2zM1019 337h1v1h-1zM1020 338h7v1h-7zM1027 339h2v1h-2zM1029 338h1v1h-1zM1030 337h1v1h-1zM1031 336h2v1h-2zM1033 335h1v1h-1zM1034 334h2v1h-2zM1036 333h2v1h-2zM1038 334h1v1h-1zM1039 335h1v1h-1zM1040 336h2v1h-2zM1042 337h1v1h-1zM1043 338h5v1h-5zM1048 339h8v1h-8zM1056 340h5v1h-5zM1061 341h1v1h-1zM1062 342h2v1h-2zM1064 343h1v1h-1zM1065 344h2v1h-2zM1067 345h1v1h-1zM1068 346h1v1h-1zM1069 347h1v1h-1zM1070 348h1v2h-1zM1071 350h1v2h-1zM1072 352h1v2h-1zM1073 354h1v2h-1zM1074 356h1v1h-1zM1075 357h1v2h-1zM1076 359h1v2h-1zM1077 361h1v2h-1zM1078 363h1v1h-1zM1079 364h1v2h-1zM1080 366h1v1h-1zM1081 367h1v2h-1zM1082 369h1v1h-1zM1083 370h1v2h-1zM1084 372h1v2h-1zM1085 374h1v1h-1zM1086 375h1v1h-1zM1087 376h1v2h-1zM1088 378h1v1h-1zM1089 379h1v2h-1zM1090 381h1v1h-1zM1091 382h1v1h-1zM1092 383h1v2h-1zM1093 385h1v2h-1zM1094 387h1v3h-1zM1095 390h1v2h-1zM1096 392h1v2h-1zM1097 394h1v2h-1zM1098 396h1v3h-1zM1099 399h1v2h-1zM1100 401h1v2h-1zM1101 403h1v2h-1zM1102 405h1v3h-1zM1103 408h1v2h-1zM1104 410h1v2h-1zM1105 412h1v2h-1zM1106 414h1v2h-1zM1107 416h1v3h-1zM1108 419h1v2h-1zM1109 421h1v1h-1zM1110 422h1v2h-1zM1111 424h1v1h-1zM1112 425h1v2h-1zM1113 427h1v2h-1zM1114 429h1v1h-1zM1115 430h1v2h-1zM1116 432h1v2h-1zM1117 434h1v1h-1zM1118 435h1v1h-1zM1119 436h1v1h-1zM1120 437h1v1h-1zM1121 438h1v2h-1zM1122 440h1v1h-1zM1123 441h1v1h-1zM1124 442h2v1h-2zM1126 443h3v1h-3zM1129 444h3v1h-3zM1132 445h3v1h-3zM1135 446h2v1h-2zM1137 447h3v1h-3zM1140 448h1v1h-1zM1141 449h1v1h-1zM1142 450h1v1h-1zM1143 451h1v2h-1zM1144 453h1v1h-1zM1145 454h1v1h-1zM1146 455h1v2h-1zM1147 457h1v1h-1zM1148 458h1v1h-1zM1149 459h1v2h-1zM1150 461h1v2h-1zM1151 463h1v1h-1zM1152 464h1v2h-1zM1153 466h1v2h-1zM1154 468h1v1h-1zM1155 469h1v2h-1zM1156 471h1v2h-1zM1157 473h1v1h-1zM1158 474h1v2h-1zM1159 476h1v1h-1zM1160 477h1v2h-1zM1161 479h1v1h-1zM1162 480h1v2h-1zM1163 482h1v1h-1zM1164 483h1v3h-1zM1165 486h1v2h-1zM1166 488h1v3h-1zM1167 491h1v2h-1zM1168 493h1v3h-1zM1169 496h1v3h-1zM1170 499h1v2h-1zM1171 501h1v3h-1zM1172 504h1v2h-1zM1173 506h1v2h-1zM1174 508h1v2h-1zM1175 510h1v2h-1zM1176 512h1v2h-1zM1177 514h1v2h-1zM1178 516h1v2h-1zM1179 518h1v3h-1zM1180 521h1v2h-1zM1181 523h1v1h-1zM1182 524h1v1h-1zM1183 525h1v1h-1zM1184 526h1v1h-1zM1185 527h1v1h-1zM1186 528h1v1h-1zM1187 529h1v1h-1zM1188 530h1v2h-1zM1189 530h11v1h-11zM1200 531h4v1h-4zM1204 532h1v1h-1zM1205 531h4v1h-4zM1209 530h7v1h-7zM1216 531h4v1h-4zM1220 532h2v1h-2zM1222 533h2v1h-2zM1224 534h2v1h-2zM1226 535h2v1h-2zM1228 536h2v1h-2zM1230 537h2v1h-2zM1232 538h1v1h-1zM1233 539h2v1h-2zM1235 540h1v1h-1zM1236 541h2v1h-2zM1238 542h1v1h-1zM1239 543h1v1h-1zM1240 544h2v1h-2zM1242 545h1v1h-1zM1243 546h1v1h-1zM1244 547h3v1h-3zM1247 548h2v1h-2zM1249 549h2v1h-2zM1251 550h3v1h-3zM1254 551h6v1h-6zM1260 552h1v1h-1zM1261 551h4v1h-4zM1265 550h7v1h-7zM1272 551h4v1h-4zM1276 552h1v1h-1zM1277 551h1v1h-1zM1278 550h2v1h-2zM1280 549h1v1h-1zM1281 548h2v1h-2zM1283 547h1v1h-1zM1284 546h3v1h-3zM1287 545h4v1h-4zM1291 544h5v1h-5zM1296 543h9v1h-9zM1305 542h4v1h-4zM1309 543h5v1h-5zM1314 544h3v1h-3zM1317 545h2v1h-2zM1319 546h1v1h-1zM1320 547h1v1h-1zM1321 548h2v1h-2zM1323 549h1v1h-1zM1324 550h3v1h-3zM1327 551h5v1h-5z" fill="#ffa500"/>
<path d="M4 42h4v1h-4zM8 43h4v1h-4zM12 44h4v1h-4zM16 45h4v1h-4zM20 46h4v1h-4zM24 47h4v1h-4zM28 48h6v1h-6zM34 49h6v1h-6zM40 50h6v1h-6zM46 51h5v1h-5zM51 52h5v1h-5zM56 53h4v1h-4zM60 54h5v1h-5zM65 55h4v1h-4zM69 56h3v1h-3zM72 57h2v1h-2zM74 58h2v1h-2zM76 59h2v1h-2zM78 60h3v1h-3zM81 61h2v1h-2zM83 62h2v1h-2zM85 63h2v1h-2zM87 64h3v1h-3zM90 65h2v1h-2zM92 66h2v1h-2zM94 67h1v1h-1zM95 68h2v1h-2zM97 69h1v1h-1zM98 70h2v1h-2zM100 71h1v1h-1zM101 72h1v1h-1zM102 73h1v1h-1zM103 74h1v1h-1zM104 75h1v1h-1zM105 76h1v1h-1zM106 77h1v1h-1zM107 78h1v1h-1zM108 79h1v1h-1zM109 80h1v1h-1zM110 81h1v1h-1zM111 82h1v1h-1zM112 83h1v1h-1zM113 84h1v1h-1zM114 85h1v1h-1zM115 86h1v1h-1zM116 87h1v1h-1zM117 88h1v2h-1zM118 90h1v1h-1zM119 91h1v1h-1zM120 92h1v1h-1zM121 93h1v1h-1zM122 94h1v1h-1zM123 95h1v1h-1zM124 96h1v1h-1zM125 97h1v1h-1zM126 98h1v1h-1zM127 99h1v1h-1zM128 100h1v1h-1zM129 101h1v1h-1zM130 102h1v1h-1zM131 103h1v1h-1zM132 104h1v1h-1zM133 105h2v1h-2zM135 106h2v1h-2zM137 107h1v1h-1zM138 108h2v1h-2zM140 109h1v1h-1zM141 110h2v1h-2zM143 111h2v1h-2zM145 112h1v1h-1zM146 113h2v1h-2zM148 114h2v1h-2zM150 115h1v1h-1zM151 116h2v1h-2zM153 117h2v1h-2zM155 118h2v1h-2zM157 119h2v1h-2zM159 120h2v1h-2zM161 121h2v1h-2zM163 122h3v1h-3zM166 123h2v1h-2zM168 124h2v1h-2zM170 125h2v1h-2zM172 126h3v1h-3zM175 127h2v1h-2zM177 128h2v1h-2zM179 129h2v1h-2zM181 130h3v1h-3zM184 131h1v1h-1zM185 132h2v1h-2zM187 133h1v1h-1zM188 134h2v1h-2zM190 135h1v1h-1zM191 136h2v1h-2zM193 137h1v1h-1zM194 138h2v1h-2zM196 139h1v1h-1zM197 140h2v1h-2zM199 141h1v1h-1zM200 142h2v1h-2zM202 143h1v1h-1zM203 144h1v1h-1zM204 145h2v1h-2zM206 146h1v1h-1zM207 147h1v1h-1zM208 148h2v1h-2zM210 149h1v1h-1zM211 150h1v1h-1zM212 151h2v1h-2zM214 152h1v1h-1zM215 153h1v1h-1zM216 154h2v1h-2zM218 155h1v1h-1zM219 156h2v1h-2zM221 157h2v1h-2zM223 158h3v1h-3zM226 159h2v1h-2zM228 160h3v1h-3zM231 161h2v1h-2zM233 162h3v1h-3zM236 163h2v1h-2zM238 164h3v1h-3zM241 165h2v1h-2zM243 166h2v1h-2zM245 167h2v1h-2zM247 168h3v1h-3zM250 169h2v1h-2zM252 170h2v1h-2zM254 171h2v1h-2zM256 172h2v1h-2zM258 173h3v1h-3zM261 174h2v1h-2zM263 175h2v1h-2zM265 176h2v1h-2zM267 177h2v1h-2zM269 178h2v1h-2zM271 179h2v1h-2zM273 180h2v1h-2zM275 181h2v1h-2zM277 182h1v1h-1zM278 183h2v1h-2zM280 184h2v1h-2zM282 185h2v1h-2zM284 186h2v1h-2zM286 187h2v1h-2zM288 188h1v1h-1zM289 189h2v1h-2zM291 190h2v1h-2zM293 191h2v1h-2zM295 192h2v1h-2zM297 193h2v1h-2zM299 194h1v1h-1zM300 195h2v1h-2zM302 196h2v1h-2zM304 197h2v1h-2zM306 198h2v1h-2zM308 199h1v1h-1zM309 200h2v1h-2zM311 201h2v1h-2zM313 202h2v1h-2zM315 203h1v1h-1zM316 204h3v1h-3zM319 205h2v1h-2zM321 206h2v1h-2zM323 207h2v1h-2zM325 208h2v1h-2zM327 209h2v1h-2zM329 210h2v1h-2zM331 211h2v1h-2zM333 212h3v1h-3zM336 213h3v1h-3zM339 214h3v1h-3zM342 215h2v1h-2zM344 216h3v1h-3zM347 217h20v1h-20zM367 218h4v1h-4zM371 219h4v1h-4zM375 220h5v1h-5zM380 221h26v1h-26zM406 222h9v1h-9zM415 223h4v1h-4zM419 224h5v1h-5zM424 225h4v1h-4zM428 226h5v1h-5zM433 227h24v1h-24zM457 228h5v1h-5zM462 229h5v1h-5zM467 230h5v1h-5zM472 231h6v1h-6zM478 232h5v1h-5zM483 233h17v1h-17zM500 234h13v1h-13zM513 235h6v1h-6zM519 234h7v1h-7zM526 233h7v1h-7zM533 232h47v1h-47zM580 233h7v1h-7zM587 234h7v1h-7zM594 235h5v1h-5zM599 236h4v1h-4zM603 237h8v1h-8zM611 236h13v1h-13zM624 237h4v1h-4zM628 238h4v1h-4zM632 239h4v1h-4zM636 240h5v1h-5zM641 241h4v1h-4zM645 242h4v1h-4zM649 243h4v1h-4zM653 244h5v1h-5zM658 245h4v1h-4zM662 246h4v1h-4zM666 247h18v1h-18zM684 248h3v1h-3zM687 249h5v1h-5zM692 250h6v1h-6zM698 251h4v1h-4zM702 252h3v1h-3zM705 253h3v1h-3zM708 254h3v1h-3zM711 255h3v1h-3zM714 256h8v1h-8zM722 257h6v1h-6zM728 258h3v1h-3zM731 259h4v1h-4zM735 260h3v1h-3zM738 261h2v1h-2zM740 262h3v1h-3zM743 263h2v1h-2zM745 264h3v1h-3zM748 265h5v1h-5zM753 266h3v1h-3zM756 267h2v1h-2zM758 268h1v1h-1zM759 269h2v1h-2zM761 270h1v1h-1zM762 271h2v1h-2zM764 272h2v1h-2zM766 273h2v1h-2zM768 274h1v1h-1zM769 275h2v1h-2zM771 276h2v1h-2zM773 277h2v1h-2zM775 278h1v1h-1zM776 279h2v1h-2zM778 280h2v1h-2zM780 281h2v1h-2zM782 282h2v1h-2zM784 283h2v1h-2zM786 284h2v1h-2zM788 285h2v1h-2zM790 286h2v1h-2zM792 287h2v1h-2zM794 288h2v1h-2zM796 289h3v1h-3zM799 290h2v1h-2zM801 291h3v1h-3zM804 292h2v1h-2zM806 293h2v1h-2zM808 294h3v1h-3zM811 295h2v1h-2zM813 296h2v1h-2zM815 297h2v1h-2zM817 298h2v1h-2zM819 299h2v1h-2zM821 300h3v1h-3zM824 301h2v1h-2zM826 302h2v1h-2zM828 303h4v1h-4zM832 304h5v1h-5zM837 305h3v1h-3zM840 306h3v1h-3zM843 307h4v1h-4zM847 308h4v1h-4zM851 309h4v1h-4zM855 310h4v1h-4zM859 311h12v1h-12zM871 312h27v1h-27zM898 311h14v1h-14zM912 312h4v1h-4zM916 313h4v1h-4zM920 314h4v1h-4zM924 315h5v1h-5zM929 316h5v1h-5zM934 317h5v1h-5zM939 318h14v1h-14zM953 319h6v1h-6zM959 320h3v1h-3zM962 321h3v1h-3zM965 322h4v1h-4zM969 323h3v1h-3zM972 324h4v1h-4zM976 325h5v1h-5zM981 326h5v1h-5zM986 327h5v1h-5zM991 328h5v1h-5zM996 329h19v1h-19zM1015 328h14v1h-14zM1029 327h8v1h-8zM1037 326h9v1h-9zM1046 325h20v1h-20zM1066 326h4v1h-4zM1070 327h3v1h-3zM1073 328h3v1h-3zM1076 329h4v1h-4zM1080 330h5v1h-5zM1085 331h3v1h-3zM1088 332h2v1h-2zM1090 333h2v1h-2zM1092 334h2v1h-2zM1094 335h2v1h-2zM1096 336h2v1h-2zM1098 337h2v1h-2zM1100 338h1v1h-1zM1101 339h2v1h-2zM1103 340h2v1h-2zM1105 341h2v1h-2zM1107 342h2v1h-2zM1109 343h1v1h-1zM1110 344h2v1h-2zM1112 345h2v1h-2zM1114 346h2v1h-2zM1116 347h1v1h-1zM1117 348h2v1h-2zM1119 349h2v1h-2zM1121 350h2v1h-2zM1123 351h1v1h-1zM1124 352h2v1h-2zM1126 353h2v1h-2zM1128 354h2v1h-2zM1130 355h1v1h-1zM1131 356h2v1h-2zM1133 357h1v1h-1zM1134 358h2v1h-2zM1136 359h1v1h-1zM1137 360h2v1h-2zM1139 361h1v1h-1zM1140 362h2v1h-2zM1142 363h1v1h-1zM1143 364h2v1h-2zM1145 365h1v1h-1zM1146 366h2v1h-2zM1148 367h1v1h-1zM1149 368h1v1h-1zM1150 369h2v1h-2zM1152 370h1v1h-1zM1153 371h1v1h-1zM1154 372h1v1h-1zM1155 373h1v1h-1zM1156 374h2v1h-2zM1158 375h1v1h-1zM1159 376h1v1h-1zM1160 377h1v1h-1zM1161 378h1v1h-1zM1162 379h2v1h-2zM1164 380h1v1h-1zM1165 381h1v1h-1zM1166 382h1v1h-1zM1167 383h1v1h-1zM1168 384h1v1h-1zM1169 385h1v1h-1zM1170 386h1v1h-1zM1171 387h2v1h-2zM1173 388h1v1h-1zM1174 389h1v1h-1zM1175 390h1v1h-1zM1176 391h1v1h-1zM1177 392h1v1h-1zM1178 393h1v1h-1zM1179 394h1v1h-1zM1180 395h2v1h-2zM1182 396h1v1h-1zM1183 397h1v1h-1zM1184 398h1v1h-1zM1185 399h1v1h-1zM1186 400h1v1h-1zM1187 401h1v1h-1zM1188 402h1v1h-1zM1189 403h1v1h-1zM1190 404h1v1h-1zM1191 405h1v1h-1zM1192 406h1v1h-1zM1193 407h1v1h-1zM1194 408h1v1h-1zM1195 409h1v1h-1zM1196 410h2v1h-2zM1198 411h1v1h-1zM1199 412h1v1h-1zM1200 413h1v1h-1zM1201 414h2v1h-2zM1203 415h1v1h-1zM1204 416h1v1h-1zM1205 417h1v1h-1zM1206 418h1v1h-1zM1207 419h2v1h-2zM1209 420h1v1h-1zM1210 421h1v1h-1zM1211 422h1v1h-1zM1212 423h1v1h-1zM1213 424h1v1h-1zM1214 425h1v1h-1zM1215 426h1v1h-1zM1216 427h2v1h-2zM1218 428h1v1h-1zM1219 429h1v1h-1zM1220 430h1v1h-1zM1221 431h1v1h-1zM1222 432h1v1h-1zM1223 433h1v1h-1zM1224 434h1v1h-1zM1225 435h1v1h-1zM1226 436h1v1h-1zM1227 437h1v1h-1zM1228 438h1v1h-1zM1229 439h2v1h-2zM1231 440h1v1h-1zM1232 441h1v1h-1zM1233 442h1v1h-1zM1234 443h1v1h-1zM1235 444h1v1h-1zM1236 445h2v1h-2zM1238 446h1v1h-1zM1239 447h1v1h-1zM1240 448h1v1h-1zM1241 449h1v1h-1zM1242 450h2v1h-2zM1244 451h1v1h-1zM1245 452h1v1h-1zM1246 453h1v1h-1zM1247 454h2v1h-2zM1249 455h1v1h-1zM1250 456h1v1h-1zM1251 457h1v1h-1zM1252 458h2v1h-2zM1254 459h1v1h-1zM1255 460h1v1h-1zM1256 461h1v1h-1zM1257 462h2v1h-2zM1259 463h1v1h-1zM1260 464h1v1h-1zM1261 465h1v1h-1zM1262 466h1v1h-1zM1263 467h1v1h-1zM1264 468h1v1h-1zM1265 469h1v1h-1zM1266 470h1v1h-1zM1267 471h1v1h-1zM1268 472h1v1h-1zM1269 473h1v1h-1zM1270 474h1v1h-1zM1271 475h1v1h-1zM1272 476h1v1h-1zM1273 477h1v1h-1zM1274 478h1v1h-1zM1275 479h1v1h-1zM1276 480h1v2h-1zM1277 481h1v1h-1zM1278 482h1v1h-1zM1279 483h1v1h-1zM1280 484h1v1h-1zM1281 485h1v1h-1zM1282 486h2v1h-2zM1284 487h1v1h-1zM1285 488h1v1h-1zM1286 489h1v1h-1zM1287 490h1v1h-1zM1288 491h2v1h-2zM1290 492h1v1h-1zM1291 493h1v1h-1zM1292 494h1v1h-1zM1293 495h1v1h-1zM1294 496h2v1h-2zM1296 497h1v1h-1zM1297 498h1v1h-1zM1298 499h1v1h-1zM1299 500h1v1h-1zM1300 501h2v1h-2zM1302 502h1v1h-1zM1303 503h1v1h-1zM1304 504h2v1h-2zM1306 505h1v1h-1zM1307 506h1v1h-1zM1308 507h2v1h-2zM1310 508h2v1h-2zM1312 509h1v1h-1zM1313 510h2v1h-2zM1315 511h1v1h-1zM1316 512h2v1h-2zM1318 513h1v1h-1zM1319 514h2v1h-2zM1321 515h1v1h-1zM1322 516h1v1h-1zM1323 517h2v1h-2zM1325 518h2v1h-2zM1327 519h2v1h-2zM1329 520h1v1h-1zM1330 521h2v1h-2z" fill="#0000cd"/>
</g>
<rect x="1685" y="30" width="2" height="1" fill="#000"/>
<text transform="translate(1690,34) scale(0.925,1)" xml:space="preserve">1.31720</text>
<rect x="1685" y="63" width="2" height="1" fill="#000"/>
<text transform="translate(1690,67) scale(0.925,1)" xml:space="preserve">1.31020</text>
<rect x="1685" y="96" width="2" height="1" fill="#000"/>
<text transform="translate(1690,100) scale(0.925,1)" xml:space="preserve">1.30320</text>
<rect x="1685" y="129" width="2" height="1" fill="#000"/>
<text transform="translate(1690,133) scale(0.925,1)" xml:space="preserve">1.29620</text>
<rect x="1685" y="162" width="2" height="1" fill="#000"/>
<text transform="translate(1690,166) scale(0.925,1)" xml:space="preserve">1.28920</text>
<rect x="1685" y="195" width="2" height="1" fill="#000"/>
<text transform="translate(1690,199) scale(0.925,1)" xml:space="preserve">1.28220</text>
<rect x="1685" y="228" width="2" height="1" fill="#000"/>
<text transform="translate(1690,232) scale(0.925,1)" xml:space="preserve">1.27520</text>
<rect x="1685" y="261" width="2" height="1" fill="#000"/>
<text transform="translate(1690,265) scale(0.925,1)" xml:space="preserve">1.26820</text>
<rect x="1685" y="294" width="2" height="1" fill="#000"/>
<text transform="translate(1690,298) scale(0.925,1)" xml:space="preserve">1.26120</text>
<rect x="1685" y="327" width="2" height="1" fill="#000"/>
<text transform="translate(1690,331) scale(0.925,1)" xml:space="preserve">1.25420</text>
<rect x="1685" y="360" width="2" height="1" fill="#000"/>
<text transform="translate(1690,364) scale(0.925,1)" xml:space="preserve">1.24720</text>
<rect x="1685" y="393" width="2" height="1" fill="#000"/>
<text transform="translate(1690,397) scale(0.925,1)" xml:space="preserve">1.24040</text>
<rect x="1685" y="426" width="2" height="1" fill="#000"/>
<text transform="translate(1690,430) scale(0.925,1)" xml:space="preserve">1.23340</text>
<rect x="1685" y="459" width="2" height="1" fill="#000"/>
<text transform="translate(1690,463) scale(0.925,1)" xml:space="preserve">1.22640</text>
<rect x="1685" y="492" width="2" height="1" fill="#000"/>
<text transform="translate(1690,496) scale(0.925,1)" xml:space="preserve">1.21940</text>
<rect x="1685" y="525" width="2" height="1" fill="#000"/>
<text transform="translate(1690,529) scale(0.925,1)" xml:space="preserve">1.21240</text>
<rect x="1685" y="558" width="2" height="1" fill="#000"/>
<text transform="translate(1690,562) scale(0.925,1)" xml:space="preserve">1.20540</text>
<rect x="1685" y="591" width="2" height="1" fill="#000"/>
<text transform="translate(1690,595) scale(0.925,1)" xml:space="preserve">1.19840</text>
<rect x="4" y="271" width="1680" height="2" fill="#ff0000"/>
<rect x="3" y="269" width="6" height="6" fill="#ff0000"/>
<rect x="5" y="271" width="2" height="2" fill="#fff"/>
<rect x="1678" y="269" width="6" height="6" fill="#ff0000"/>
<rect x="1680" y="271" width="2" height="2" fill="#fff"/>
<rect x="4" y="345" width="1680" height="2" fill="#ff0000"/>
<rect x="3" y="343" width="6" height="6" fill="#ff0000"/>
<rect x="5" y="345" width="2" height="2" fill="#fff"/>
<rect x="1678" y="343" width="6" height="6" fill="#ff0000"/>
<rect x="1680" y="345" width="2" height="2" fill="#fff"/>
<rect x="4" y="410" width="1680" height="2" fill="#00ff00"/>
<rect x="3" y="408" width="6" height="6" fill="#00ff00"/>
<rect x="5" y="410" width="2" height="2" fill="#fff"/>
<rect x="1678" y="408" width="6" height="6" fill="#00ff00"/>
<rect x="1680" y="410" width="2" height="2" fill="#fff"/>
<rect x="4" y="488" width="1680" height="2" fill="#0000ff"/>
<rect x="3" y="486" width="6" height="6" fill="#0000ff"/>
<rect x="5" y="488" width="2" height="2" fill="#fff"/>
<rect x="1678" y="486" width="6" height="6" fill="#0000ff"/>
<rect x="1680" y="488" width="2" height="2" fill="#fff"/>
<rect x="4" y="581" width="1680" height="2" fill="#0000ff"/>
<rect x="3" y="579" width="6" height="6" fill="#0000ff"/>
<rect x="5" y="581" width="2" height="2" fill="#fff"/>
<rect x="1678" y="579" width="6" height="6" fill="#0000ff"/>
<rect x="1680" y="581" width="2" height="2" fill="#fff"/>
<rect x="1686" y="266" width="40" height="11" fill="#ff0000"/>
<text transform="translate(1690,275) scale(0.925,1)" xml:space="preserve" style="fill:#fff">1.26595</text>
<rect x="1686" y="340" width="40" height="11" fill="#ff0000"/>
<text transform="translate(1690,349) scale(0.925,1)" xml:space="preserve" style="fill:#fff">1.25036</text>
<rect x="1686" y="405" width="40" height="11" fill="#00ff00"/>
<text transform="translate(1690,414) scale(0.925,1)" xml:space="preserve" style="fill:#fff">1.23641</text>
<rect x="1686" y="483" width="40" height="11" fill="#0000ff"/>
<text transform="translate(1690,492) scale(0.925,1)" xml:space="preserve" style="fill:#fff">1.22000</text>
<rect x="1686" y="576" width="40" height="11" fill="#0000ff"/>
<text transform="translate(1690,585) scale(0.925,1)" xml:space="preserve" style="fill:#fff">1.20031</text>
<rect x="1686" y="549" width="40" height="11" fill="#000000"/>
<text transform="translate(1690,558) scale(0.925,1)" xml:space="preserve" style="fill:#fff">1.20624</text>
<polygon points="7,33 14,33 10.5,36.8" fill="#000" shape-rendering="auto"/>
<text transform="translate(19,38) scale(0.985,1)" xml:space="preserve">USDCAD,Daily</text>
<text transform="translate(91,38) scale(0.934,1)" xml:space="preserve">1.20311 1.20765 1.20309 1.20624</text>
<text transform="translate(8,609) scale(0.95,1)" xml:space="preserve">RSI(14) 38.6857</text>
<line x1="5" y1="628.5" x2="1684" y2="628.5" stroke="#c0c0c0" stroke-width="1" stroke-dasharray="3,3"/>
<line x1="5" y1="669.5" x2="1684" y2="669.5" stroke="#c0c0c0" stroke-width="1" stroke-dasharray="3,3"/>
<path d="M4 654h1v1h-1zM5 653h4v1h-4zM9 652h7v1h-7zM16 653h4v1h-4zM20 654h1v1h-1zM21 653h3v1h-3zM24 652h2v1h-2zM26 651h12v1h-12zM38 652h1v1h-1zM39 653h2v1h-2zM41 654h1v1h-1zM42 655h2v1h-2zM44 656h1v1h-1zM45 657h4v1h-4zM49 658h3v1h-3zM52 659h2v1h-2zM54 658h9v1h-9zM63 659h3v1h-3zM66 660h2v1h-2zM68 661h1v1h-1zM69 660h11v1h-11zM80 661h4v1h-4zM84 662h12v1h-12zM96 663h4v1h-4zM100 664h2v1h-2zM102 665h1v1h-1zM103 666h2v1h-2zM105 667h2v1h-2zM107 668h1v1h-1zM108 669h2v1h-2zM110 670h2v1h-2zM112 671h2v1h-2zM114 672h2v1h-2zM116 673h7v1h-7zM123 674h2v1h-2zM125 673h1v1h-1zM126 672h2v1h-2zM128 671h2v1h-2zM130 670h1v1h-1zM131 669h5v1h-5zM136 670h4v1h-4zM140 671h1v1h-1zM141 670h4v1h-4zM145 669h5v1h-5zM150 670h1v1h-1zM151 671h2v1h-2zM153 672h2v1h-2zM155 673h1v1h-1zM156 674h1v1h-1zM157 673h1v1h-1zM158 672h1v1h-1zM159 671h1v1h-1zM160 670h1v1h-1zM161 669h1v1h-1zM162 668h1v1h-1zM163 667h1v1h-1zM164 666h18v1h-18zM182 667h4v1h-4zM186 668h4v1h-4zM190 667h2v1h-2zM192 666h3v1h-3zM195 665h3v1h-3zM198 666h3v1h-3zM201 667h2v1h-2zM203 668h2v1h-2zM205 667h1v1h-1zM206 666h1v1h-1zM207 665h1v1h-1zM208 664h1v1h-1zM209 663h1v1h-1zM210 662h1v1h-1zM211 661h1v1h-1zM212 660h1v1h-1zM213 659h4v1h-4zM217 658h4v1h-4zM221 656h1v2h-1zM222 655h1v1h-1zM223 654h1v1h-1zM224 652h1v2h-1zM225 651h1v1h-1zM226 650h1v1h-1zM227 648h1v2h-1zM228 647h2v1h-2zM230 646h1v1h-1zM231 645h1v1h-1zM232 644h2v1h-2zM234 643h1v1h-1zM235 642h2v1h-2zM237 643h2v1h-2zM239 644h1v1h-1zM240 645h1v1h-1zM241 646h1v1h-1zM242 647h1v1h-1zM243 648h1v1h-1zM244 649h4v1h-4zM248 650h4v1h-4zM252 651h9v1h-9zM261 650h4v1h-4zM265 649h5v1h-5zM270 650h1v1h-1zM271 651h1v1h-1zM272 652h2v1h-2zM274 653h1v1h-1zM275 654h1v1h-1zM276 655h2v1h-2zM278 656h2v1h-2zM280 657h2v1h-2zM282 658h2v1h-2zM284 659h5v1h-5zM289 660h6v1h-6zM295 661h5v1h-5zM300 662h1v1h-1zM301 661h3v1h-3zM304 660h2v1h-2zM306 659h12v1h-12zM318 660h2v1h-2zM320 661h2v1h-2zM322 662h2v1h-2zM324 663h1v1h-1zM325 662h2v1h-2zM327 661h2v1h-2zM329 660h2v1h-2zM331 659h4v1h-4zM335 660h2v1h-2zM337 661h3v1h-3zM340 662h1v1h-1zM341 661h3v1h-3zM344 660h2v1h-2zM346 659h3v1h-3zM349 657h1v2h-1zM350 656h1v1h-1zM351 654h1v2h-1zM352 652h1v2h-1zM353 651h1v1h-1zM354 649h1v2h-1zM355 648h1v1h-1zM356 646h1v2h-1zM357 647h2v1h-2zM359 648h1v1h-1zM360 649h2v1h-2zM362 650h2v1h-2zM364 651h1v1h-1zM365 652h2v1h-2zM367 653h1v1h-1zM368 654h2v1h-2zM370 655h2v1h-2zM372 656h1v1h-1zM373 657h2v1h-2zM375 658h1v1h-1zM376 659h2v1h-2zM378 660h2v1h-2zM380 661h1v1h-1zM381 660h1v1h-1zM382 658h1v2h-1zM383 657h1v1h-1zM384 655h1v2h-1zM385 654h1v1h-1zM386 653h1v1h-1zM387 651h1v2h-1zM388 650h3v1h-3zM391 651h3v1h-3zM394 652h2v1h-2zM396 653h1v1h-1zM397 652h2v1h-2zM399 651h2v1h-2zM401 650h2v1h-2zM403 649h4v1h-4zM407 650h2v1h-2zM409 651h3v1h-3zM412 652h1v1h-1zM413 653h1v1h-1zM414 654h1v1h-1zM415 655h1v1h-1zM416 656h1v1h-1zM417 657h1v1h-1zM418 658h1v1h-1zM419 659h1v1h-1zM420 660h9v1h-9zM429 659h1v1h-1zM430 658h1v1h-1zM431 656h1v2h-1zM432 655h1v1h-1zM433 654h1v1h-1zM434 653h1v1h-1zM435 652h1v1h-1zM436 651h1v1h-1zM437 650h6v1h-6zM443 649h5v1h-5zM448 648h6v1h-6zM454 649h2v1h-2zM456 650h2v1h-2zM458 651h2v1h-2zM460 652h1v1h-1zM461 651h1v1h-1zM462 650h1v1h-1zM463 649h2v1h-2zM465 648h1v1h-1zM466 647h1v1h-1zM467 646h2v1h-2zM469 645h2v1h-2zM471 644h3v1h-3zM474 643h4v1h-4zM478 644h2v1h-2zM480 645h2v1h-2zM482 646h2v1h-2zM484 647h1v1h-1zM485 646h3v1h-3zM488 645h2v1h-2zM490 644h3v1h-3zM493 643h3v1h-3zM496 642h2v1h-2zM498 641h9v1h-9zM507 642h3v1h-3zM510 643h2v1h-2zM512 644h2v1h-2zM514 645h2v1h-2zM516 646h1v1h-1zM517 645h2v1h-2zM519 644h2v1h-2zM521 643h2v1h-2zM523 642h3v1h-3zM526 643h1v1h-1zM527 644h1v1h-1zM528 645h2v1h-2zM530 646h1v1h-1zM531 647h1v1h-1zM532 648h7v1h-7zM539 649h6v1h-6zM545 650h5v1h-5zM550 651h2v1h-2zM552 652h3v1h-3zM555 653h3v1h-3zM558 654h2v1h-2zM560 655h2v1h-2zM562 656h2v1h-2zM564 657h9v1h-9zM573 656h3v1h-3zM576 655h2v1h-2zM578 654h12v1h-12zM590 655h1v1h-1zM591 656h1v1h-1zM592 657h2v1h-2zM594 658h1v1h-1zM595 659h1v1h-1zM596 660h1v1h-1zM597 659h1v1h-1zM598 658h2v1h-2zM600 657h2v1h-2zM602 656h1v1h-1zM603 655h2v1h-2zM605 654h1v1h-1zM606 653h2v1h-2zM608 652h2v1h-2zM610 651h1v1h-1zM611 650h10v1h-10zM621 651h1v1h-1zM622 652h1v1h-1zM623 653h1v2h-1zM624 655h1v1h-1zM625 656h1v1h-1zM626 657h1v2h-1zM627 659h1v1h-1zM628 660h1v2h-1zM629 660h4v1h-4zM633 659h10v1h-10zM643 660h6v1h-6zM649 661h5v1h-5zM654 662h3v1h-3zM657 663h3v1h-3zM660 664h2v1h-2zM662 665h2v1h-2zM664 666h2v1h-2zM666 667h2v1h-2zM668 667h1v2h-1zM669 665h1v2h-1zM670 663h1v2h-1zM671 660h1v3h-1zM672 658h1v2h-1zM673 656h1v2h-1zM674 653h1v3h-1zM675 651h1v2h-1zM676 649h1v2h-1zM677 649h1v1h-1zM678 648h3v1h-3zM681 647h2v1h-2zM683 646h2v1h-2zM685 647h2v1h-2zM687 648h2v1h-2zM689 649h2v1h-2zM691 650h1v1h-1zM692 651h4v1h-4zM696 652h3v1h-3zM699 653h15v1h-15zM714 654h3v1h-3zM717 653h1v1h-1zM718 652h1v1h-1zM719 651h1v1h-1zM720 650h1v1h-1zM721 649h1v1h-1zM722 648h2v1h-2zM724 647h4v1h-4zM728 648h4v1h-4zM732 649h12v1h-12zM744 650h4v1h-4zM748 651h9v1h-9zM757 652h1v1h-1zM758 653h2v1h-2zM760 654h1v1h-1zM761 655h1v1h-1zM762 656h2v1h-2zM764 657h1v1h-1zM765 658h1v1h-1zM766 659h1v1h-1zM767 660h2v1h-2zM769 661h1v1h-1zM770 662h1v1h-1zM771 663h1v1h-1zM772 664h4v1h-4zM776 665h3v1h-3zM779 666h3v1h-3zM782 665h2v1h-2zM784 664h2v1h-2zM786 663h6v1h-6zM792 664h4v1h-4zM796 665h1v1h-1zM797 664h3v1h-3zM800 663h2v1h-2zM802 662h5v1h-5zM807 663h2v1h-2zM809 664h3v1h-3zM812 665h1v1h-1zM813 664h1v1h-1zM814 662h1v2h-1zM815 661h1v1h-1zM816 660h1v1h-1zM817 659h1v1h-1zM818 658h1v1h-1zM819 657h1v1h-1zM820 656h7v1h-7zM827 657h2v1h-2zM829 656h2v1h-2zM831 655h2v1h-2zM833 654h2v1h-2zM835 653h3v1h-3zM838 652h3v1h-3zM841 651h12v1h-12zM853 650h1v1h-1zM854 649h1v1h-1zM855 648h1v1h-1zM856 647h1v1h-1zM857 646h1v1h-1zM858 645h1v1h-1zM859 644h3v1h-3zM862 645h2v1h-2zM864 646h2v1h-2zM866 647h2v1h-2zM868 648h1v1h-1zM869 647h5v1h-5zM874 646h8v1h-8zM882 647h3v1h-3zM885 646h2v1h-2zM887 645h2v1h-2zM889 644h2v1h-2zM891 643h3v1h-3zM894 644h1v1h-1zM895 645h1v1h-1zM896 646h2v1h-2zM898 647h1v1h-1zM899 648h1v1h-1zM900 649h7v1h-7zM907 650h3v1h-3zM910 651h3v1h-3zM913 652h2v1h-2zM915 653h2v1h-2zM917 652h2v1h-2zM919 651h2v1h-2zM921 650h2v1h-2zM923 649h2v1h-2zM925 650h1v1h-1zM926 651h2v1h-2zM928 652h1v1h-1zM929 653h1v1h-1zM930 654h1v1h-1zM931 655h1v1h-1zM932 656h1v1h-1zM933 655h2v1h-2zM935 654h2v1h-2zM937 653h1v1h-1zM938 652h2v1h-2zM940 651h1v1h-1zM941 650h1v1h-1zM942 649h1v1h-1zM943 648h1v1h-1zM944 647h1v1h-1zM945 646h1v1h-1zM946 645h1v1h-1zM947 644h3v1h-3zM950 645h2v1h-2zM952 646h2v1h-2zM954 647h2v1h-2zM956 648h2v1h-2zM958 649h2v1h-2zM960 650h2v1h-2zM962 651h2v1h-2zM964 652h5v1h-5zM969 653h5v1h-5zM974 652h2v1h-2zM976 651h3v1h-3zM979 650h9v1h-9zM988 651h3v1h-3zM991 652h2v1h-2zM993 653h3v1h-3zM996 654h1v1h-1zM997 653h3v1h-3zM1000 652h2v1h-2zM1002 651h4v1h-4zM1006 652h2v1h-2zM1008 653h2v1h-2zM1010 654h2v1h-2zM1012 655h9v1h-9zM1021 654h1v1h-1zM1022 653h2v1h-2zM1024 652h2v1h-2zM1026 651h1v1h-1zM1027 650h2v1h-2zM1029 649h2v1h-2zM1031 648h2v1h-2zM1033 647h2v1h-2zM1035 646h2v1h-2zM1037 647h1v1h-1zM1038 648h1v2h-1zM1039 650h1v1h-1zM1040 651h1v1h-1zM1041 652h1v1h-1zM1042 653h1v2h-1zM1043 655h1v1h-1zM1044 656h4v1h-4zM1048 655h6v1h-6zM1054 654h10v1h-10zM1064 655h4v1h-4zM1068 656h2v1h-2zM1070 657h1v1h-1zM1071 658h1v1h-1zM1072 659h1v1h-1zM1073 660h1v1h-1zM1074 661h1v1h-1zM1075 662h1v1h-1zM1076 663h10v1h-10zM1086 664h2v1h-2zM1088 665h2v1h-2zM1090 666h2v1h-2zM1092 667h2v1h-2zM1094 668h2v1h-2zM1096 669h2v1h-2zM1098 670h2v1h-2zM1100 671h15v1h-15zM1115 672h10v1h-10zM1125 671h1v1h-1zM1126 670h1v1h-1zM1127 669h1v1h-1zM1128 668h1v1h-1zM1129 667h1v1h-1zM1130 666h1v1h-1zM1131 665h1v1h-1zM1132 664h2v1h-2zM1134 665h2v1h-2zM1136 666h1v1h-1zM1137 667h2v1h-2zM1139 668h1v1h-1zM1140 669h3v1h-3zM1143 670h2v1h-2zM1145 671h2v1h-2zM1147 672h2v1h-2zM1149 673h3v1h-3zM1152 674h2v1h-2zM1154 675h2v1h-2zM1156 676h12v1h-12zM1168 677h4v1h-4zM1172 678h1v1h-1zM1173 677h8v1h-8zM1181 676h4v1h-4zM1185 675h4v1h-4zM1189 674h1v1h-1zM1190 673h1v1h-1zM1191 672h1v1h-1zM1192 671h1v1h-1zM1193 670h1v1h-1zM1194 669h1v1h-1zM1195 668h5v1h-5zM1200 669h4v1h-4zM1204 670h11v1h-11zM1215 671h3v1h-3zM1218 672h2v1h-2zM1220 673h7v1h-7zM1227 674h2v1h-2zM1229 673h1v1h-1zM1230 672h2v1h-2zM1232 671h1v1h-1zM1233 670h1v1h-1zM1234 669h2v1h-2zM1236 668h2v1h-2zM1238 669h3v1h-3zM1241 670h3v1h-3zM1244 671h1v1h-1zM1245 670h2v1h-2zM1247 669h2v1h-2zM1249 668h2v1h-2zM1251 667h6v1h-6zM1257 668h4v1h-4zM1261 667h2v1h-2zM1263 666h2v1h-2zM1265 665h2v1h-2zM1267 664h5v1h-5zM1272 665h3v1h-3zM1275 666h2v1h-2zM1277 665h1v1h-1zM1278 664h1v1h-1zM1279 663h1v1h-1zM1280 662h1v1h-1zM1281 661h1v1h-1zM1282 659h1v2h-1zM1283 658h1v1h-1zM1284 657h1v1h-1zM1285 658h2v1h-2zM1287 659h2v1h-2zM1289 660h1v1h-1zM1290 661h2v1h-2zM1292 662h1v1h-1zM1293 661h4v1h-4zM1297 660h11v1h-11zM1308 661h7v1h-7zM1315 662h3v1h-3zM1318 663h2v1h-2zM1320 664h2v1h-2zM1322 665h2v1h-2zM1324 666h1v1h-1zM1325 665h1v1h-1zM1326 664h2v1h-2zM1328 663h1v1h-1zM1329 662h2v1h-2zM1331 661h2v1h-2z" fill="#1e90ff"/>
<rect x="1685" y="598" width="1" height="1" fill="#000"/>
<text transform="translate(1688,607) scale(0.925,1)" xml:space="preserve">100</text>
<rect x="1685" y="628" width="1" height="1" fill="#000"/>
<text transform="translate(1688,632) scale(0.925,1)" xml:space="preserve">70</text>
<rect x="1685" y="669" width="1" height="1" fill="#000"/>
<text transform="translate(1688,673) scale(0.925,1)" xml:space="preserve">30</text>
<rect x="1685" y="699" width="1" height="1" fill="#000"/>
<text transform="translate(1688,697) scale(0.925,1)" xml:space="preserve">0</text>
<text transform="translate(8,715) scale(0.945,1)" xml:space="preserve">MACD(12,26,9) -0.005728 -0.006936</text>
<rect x="4" y="719" width="1" height="23" fill="#c0c0c0"/>
<rect x="12" y="719" width="1" height="23" fill="#c0c0c0"/>
<rect x="20" y="719" width="1" height="23" fill="#c0c0c0"/>
<rect x="28" y="719" width="1" height="21" fill="#c0c0c0"/>
<rect x="36" y="719" width="1" height="19" fill="#c0c0c0"/>
<rect x="44" y="719" width="1" height="21" fill="#c0c0c0"/>
<rect x="52" y="719" width="1" height="23" fill="#c0c0c0"/>
<rect x="60" y="719" width="1" height="25" fill="#c0c0c0"/>
<rect x="68" y="719" width="1" height="29" fill="#c0c0c0"/>
<rect x="76" y="719" width="1" height="31" fill="#c0c0c0"/>
<rect x="84" y="719" width="1" height="33" fill="#c0c0c0"/>
<rect x="92" y="719" width="1" height="35" fill="#c0c0c0"/>
<rect x="100" y="719" width="1" height="37" fill="#c0c0c0"/>
<rect x="108" y="719" width="1" height="42" fill="#c0c0c0"/>
<rect x="116" y="719" width="1" height="50" fill="#c0c0c0"/>
<rect x="124" y="719" width="1" height="57" fill="#c0c0c0"/>
<rect x="132" y="719" width="1" height="58" fill="#c0c0c0"/>
<rect x="140" y="719" width="1" height="62" fill="#c0c0c0"/>
<rect x="148" y="719" width="1" height="63" fill="#c0c0c0"/>
<rect x="156" y="719" width="1" height="68" fill="#c0c0c0"/>
<rect x="164" y="719" width="1" height="68" fill="#c0c0c0"/>
<rect x="172" y="719" width="1" height="67" fill="#c0c0c0"/>
<rect x="180" y="719" width="1" height="66" fill="#c0c0c0"/>
<rect x="188" y="719" width="1" height="65" fill="#c0c0c0"/>
<rect x="196" y="719" width="1" height="64" fill="#c0c0c0"/>
<rect x="204" y="719" width="1" height="64" fill="#c0c0c0"/>
<rect x="212" y="719" width="1" height="60" fill="#c0c0c0"/>
<rect x="220" y="719" width="1" height="55" fill="#c0c0c0"/>
<rect x="228" y="719" width="1" height="45" fill="#c0c0c0"/>
<rect x="236" y="719" width="1" height="35" fill="#c0c0c0"/>
<rect x="244" y="719" width="1" height="29" fill="#c0c0c0"/>
<rect x="252" y="719" width="1" height="27" fill="#c0c0c0"/>
<rect x="260" y="719" width="1" height="23" fill="#c0c0c0"/>
<rect x="268" y="719" width="1" height="20" fill="#c0c0c0"/>
<rect x="276" y="719" width="1" height="21" fill="#c0c0c0"/>
<rect x="284" y="719" width="1" height="23" fill="#c0c0c0"/>
<rect x="292" y="719" width="1" height="27" fill="#c0c0c0"/>
<rect x="300" y="719" width="1" height="29" fill="#c0c0c0"/>
<rect x="308" y="719" width="1" height="30" fill="#c0c0c0"/>
<rect x="316" y="719" width="1" height="32" fill="#c0c0c0"/>
<rect x="324" y="719" width="1" height="34" fill="#c0c0c0"/>
<rect x="332" y="719" width="1" height="34" fill="#c0c0c0"/>
<rect x="340" y="719" width="1" height="36" fill="#c0c0c0"/>
<rect x="348" y="719" width="1" height="35" fill="#c0c0c0"/>
<rect x="356" y="719" width="1" height="28" fill="#c0c0c0"/>
<rect x="364" y="719" width="1" height="26" fill="#c0c0c0"/>
<rect x="372" y="719" width="1" height="26" fill="#c0c0c0"/>
<rect x="380" y="719" width="1" height="30" fill="#c0c0c0"/>
<rect x="388" y="719" width="1" height="26" fill="#c0c0c0"/>
<rect x="396" y="719" width="1" height="25" fill="#c0c0c0"/>
<rect x="404" y="719" width="1" height="21" fill="#c0c0c0"/>
<rect x="412" y="719" width="1" height="20" fill="#c0c0c0"/>
<rect x="420" y="719" width="1" height="25" fill="#c0c0c0"/>
<rect x="428" y="719" width="1" height="28" fill="#c0c0c0"/>
<rect x="436" y="719" width="1" height="26" fill="#c0c0c0"/>
<rect x="444" y="719" width="1" height="23" fill="#c0c0c0"/>
<rect x="452" y="719" width="1" height="20" fill="#c0c0c0"/>
<rect x="460" y="719" width="1" height="18" fill="#c0c0c0"/>
<rect x="468" y="719" width="1" height="13" fill="#c0c0c0"/>
<rect x="476" y="719" width="1" height="7" fill="#c0c0c0"/>
<rect x="484" y="719" width="1" height="5" fill="#c0c0c0"/>
<rect x="492" y="719" width="1" height="1" fill="#c0c0c0"/>
<rect x="500" y="716" width="1" height="3" fill="#c0c0c0"/>
<rect x="508" y="713" width="1" height="6" fill="#c0c0c0"/>
<rect x="516" y="712" width="1" height="7" fill="#c0c0c0"/>
<rect x="524" y="709" width="1" height="10" fill="#c0c0c0"/>
<rect x="532" y="711" width="1" height="8" fill="#c0c0c0"/>
<rect x="540" y="712" width="1" height="7" fill="#c0c0c0"/>
<rect x="548" y="715" width="1" height="4" fill="#c0c0c0"/>
<rect x="556" y="719" width="1" height="1" fill="#c0c0c0"/>
<rect x="564" y="719" width="1" height="3" fill="#c0c0c0"/>
<rect x="572" y="719" width="1" height="7" fill="#c0c0c0"/>
<rect x="580" y="719" width="1" height="9" fill="#c0c0c0"/>
<rect x="588" y="719" width="1" height="11" fill="#c0c0c0"/>
<rect x="596" y="719" width="1" height="15" fill="#c0c0c0"/>
<rect x="604" y="719" width="1" height="16" fill="#c0c0c0"/>
<rect x="612" y="719" width="1" height="13" fill="#c0c0c0"/>
<rect x="620" y="719" width="1" height="12" fill="#c0c0c0"/>
<rect x="628" y="719" width="1" height="18" fill="#c0c0c0"/>
<rect x="636" y="719" width="1" height="22" fill="#c0c0c0"/>
<rect x="644" y="719" width="1" height="25" fill="#c0c0c0"/>
<rect x="652" y="719" width="1" height="27" fill="#c0c0c0"/>
<rect x="660" y="719" width="1" height="30" fill="#c0c0c0"/>
<rect x="668" y="719" width="1" height="37" fill="#c0c0c0"/>
<rect x="676" y="719" width="1" height="32" fill="#c0c0c0"/>
<rect x="684" y="719" width="1" height="26" fill="#c0c0c0"/>
<rect x="692" y="719" width="1" height="23" fill="#c0c0c0"/>
<rect x="700" y="719" width="1" height="22" fill="#c0c0c0"/>
<rect x="708" y="719" width="1" height="22" fill="#c0c0c0"/>
<rect x="716" y="719" width="1" height="22" fill="#c0c0c0"/>
<rect x="724" y="719" width="1" height="17" fill="#c0c0c0"/>
<rect x="732" y="719" width="1" height="14" fill="#c0c0c0"/>
<rect x="740" y="719" width="1" height="13" fill="#c0c0c0"/>
<rect x="748" y="719" width="1" height="12" fill="#c0c0c0"/>
<rect x="756" y="719" width="1" height="12" fill="#c0c0c0"/>
<rect x="764" y="719" width="1" height="15" fill="#c0c0c0"/>
<rect x="772" y="719" width="1" height="23" fill="#c0c0c0"/>
<rect x="780" y="719" width="1" height="30" fill="#c0c0c0"/>
<rect x="788" y="719" width="1" height="33" fill="#c0c0c0"/>
<rect x="796" y="719" width="1" height="38" fill="#c0c0c0"/>
<rect x="804" y="719" width="1" height="40" fill="#c0c0c0"/>
<rect x="812" y="719" width="1" height="44" fill="#c0c0c0"/>
<rect x="820" y="719" width="1" height="42" fill="#c0c0c0"/>
<rect x="828" y="719" width="1" height="40" fill="#c0c0c0"/>
<rect x="836" y="719" width="1" height="35" fill="#c0c0c0"/>
<rect x="844" y="719" width="1" height="32" fill="#c0c0c0"/>
<rect x="852" y="719" width="1" height="29" fill="#c0c0c0"/>
<rect x="860" y="719" width="1" height="21" fill="#c0c0c0"/>
<rect x="868" y="719" width="1" height="17" fill="#c0c0c0"/>
<rect x="876" y="719" width="1" height="14" fill="#c0c0c0"/>
<rect x="884" y="719" width="1" height="10" fill="#c0c0c0"/>
<rect x="892" y="719" width="1" height="6" fill="#c0c0c0"/>
<rect x="900" y="719" width="1" height="5" fill="#c0c0c0"/>
<rect x="908" y="719" width="1" height="5" fill="#c0c0c0"/>
<rect x="916" y="719" width="1" height="6" fill="#c0c0c0"/>
<rect x="924" y="719" width="1" height="6" fill="#c0c0c0"/>
<rect x="932" y="719" width="1" height="7" fill="#c0c0c0"/>
<rect x="940" y="719" width="1" height="7" fill="#c0c0c0"/>
<rect x="948" y="719" width="1" height="5" fill="#c0c0c0"/>
<rect x="956" y="719" width="1" height="4" fill="#c0c0c0"/>
<rect x="964" y="719" width="1" height="4" fill="#c0c0c0"/>
<rect x="972" y="719" width="1" height="5" fill="#c0c0c0"/>
<rect x="980" y="719" width="1" height="6" fill="#c0c0c0"/>
<rect x="988" y="719" width="1" height="7" fill="#c0c0c0"/>
<rect x="996" y="719" width="1" height="7" fill="#c0c0c0"/>
<rect x="1004" y="719" width="1" height="8" fill="#c0c0c0"/>
<rect x="1012" y="719" width="1" height="11" fill="#c0c0c0"/>
<rect x="1020" y="719" width="1" height="12" fill="#c0c0c0"/>
<rect x="1028" y="719" width="1" height="11" fill="#c0c0c0"/>
<rect x="1036" y="719" width="1" height="9" fill="#c0c0c0"/>
<rect x="1044" y="719" width="1" height="10" fill="#c0c0c0"/>
<rect x="1052" y="719" width="1" height="12" fill="#c0c0c0"/>
<rect x="1060" y="719" width="1" height="13" fill="#c0c0c0"/>
<rect x="1068" y="719" width="1" height="15" fill="#c0c0c0"/>
<rect x="1076" y="719" width="1" height="21" fill="#c0c0c0"/>
<rect x="1084" y="719" width="1" height="25" fill="#c0c0c0"/>
<rect x="1092" y="719" width="1" height="31" fill="#c0c0c0"/>
<rect x="1100" y="719" width="1" height="38" fill="#c0c0c0"/>
<rect x="1108" y="719" width="1" height="44" fill="#c0c0c0"/>
<rect x="1116" y="719" width="1" height="49" fill="#c0c0c0"/>
<rect x="1124" y="719" width="1" height="52" fill="#c0c0c0"/>
<rect x="1132" y="719" width="1" height="51" fill="#c0c0c0"/>
<rect x="1140" y="719" width="1" height="53" fill="#c0c0c0"/>
<rect x="1148" y="719" width="1" height="59" fill="#c0c0c0"/>
<rect x="1156" y="719" width="1" height="66" fill="#c0c0c0"/>
<rect x="1164" y="719" width="1" height="71" fill="#c0c0c0"/>
<rect x="1172" y="719" width="1" height="76" fill="#c0c0c0"/>
<rect x="1180" y="719" width="1" height="79" fill="#c0c0c0"/>
<rect x="1188" y="719" width="1" height="81" fill="#c0c0c0"/>
<rect x="1196" y="719" width="1" height="77" fill="#c0c0c0"/>
<rect x="1204" y="719" width="1" height="77" fill="#c0c0c0"/>
<rect x="1212" y="719" width="1" height="76" fill="#c0c0c0"/>
<rect x="1220" y="719" width="1" height="76" fill="#c0c0c0"/>
<rect x="1228" y="719" width="1" height="76" fill="#c0c0c0"/>
<rect x="1236" y="719" width="1" height="73" fill="#c0c0c0"/>
<rect x="1244" y="719" width="1" height="73" fill="#c0c0c0"/>
<rect x="1252" y="719" width="1" height="70" fill="#c0c0c0"/>
<rect x="1260" y="719" width="1" height="68" fill="#c0c0c0"/>
<rect x="1268" y="719" width="1" height="64" fill="#c0c0c0"/>
<rect x="1276" y="719" width="1" height="62" fill="#c0c0c0"/>
<rect x="1284" y="719" width="1" height="56" fill="#c0c0c0"/>
<rect x="1292" y="719" width="1" height="53" fill="#c0c0c0"/>
<rect x="1300" y="719" width="1" height="50" fill="#c0c0c0"/>
<rect x="1308" y="719" width="1" height="47" fill="#c0c0c0"/>
<rect x="1316" y="719" width="1" height="45" fill="#c0c0c0"/>
<rect x="1324" y="719" width="1" height="45" fill="#c0c0c0"/>
<rect x="1332" y="719" width="1" height="43" fill="#c0c0c0"/>
<path d="M4 749h1v1h-1zM5 749h1v1h-1zM6 748h1v1h-1zM10 747h1v1h-1zM11 747h1v1h-1zM12 747h1v1h-1zM16 746h1v1h-1zM17 746h1v1h-1zM18 746h1v1h-1zM22 745h1v1h-1zM23 745h1v1h-1zM24 745h1v1h-1zM28 744h1v1h-1zM29 744h1v1h-1zM30 744h1v1h-1zM34 743h1v1h-1zM35 742h1v1h-1zM36 742h1v1h-1zM40 742h1v1h-1zM41 741h1v1h-1zM42 741h1v1h-1zM46 741h1v1h-1zM47 741h1v1h-1zM48 741h1v1h-1zM52 741h1v1h-1zM53 741h1v1h-1zM54 741h1v1h-1zM58 742h1v1h-1zM59 742h1v1h-1zM60 742h1v1h-1zM64 742h1v1h-1zM65 742h1v1h-1zM66 742h1v1h-1zM70 742h1v1h-1zM71 742h1v1h-1zM72 742h1v1h-1zM76 743h1v1h-1zM77 743h1v1h-1zM78 743h1v1h-1zM82 744h1v1h-1zM83 744h1v1h-1zM84 744h1v1h-1zM88 745h1v1h-1zM89 745h1v1h-1zM90 745h1v1h-1zM94 746h1v1h-1zM95 746h1v1h-1zM96 746h1v1h-1zM100 747h1v1h-1zM101 747h1v1h-1zM102 748h1v1h-1zM106 749h1v1h-1zM107 750h1v1h-1zM108 750h1v1h-1zM112 752h1v1h-1zM113 752h1v1h-1zM114 752h1v1h-1zM118 754h1v1h-1zM119 754h1v1h-1zM120 754h1v1h-1zM124 755h1v1h-1zM125 756h1v1h-1zM126 756h1v1h-1zM130 758h1v1h-1zM131 759h1v1h-1zM132 759h1v1h-1zM136 761h1v1h-1zM137 762h1v1h-1zM138 762h1v1h-1zM142 765h1v1h-1zM143 765h1v1h-1zM144 766h1v1h-1zM148 768h1v1h-1zM149 768h1v1h-1zM150 768h1v1h-1zM154 770h1v1h-1zM155 771h1v1h-1zM156 771h1v1h-1zM160 773h1v1h-1zM161 774h1v1h-1zM162 774h1v1h-1zM166 776h1v1h-1zM167 776h1v1h-1zM168 777h1v1h-1zM172 779h1v1h-1zM173 779h1v1h-1zM174 779h1v1h-1zM178 781h1v1h-1zM179 781h1v1h-1zM180 781h1v1h-1zM184 782h1v1h-1zM185 782h1v1h-1zM186 782h1v1h-1zM190 783h1v1h-1zM191 783h1v1h-1zM192 783h1v1h-1zM196 784h1v1h-1zM197 784h1v1h-1zM198 784h1v1h-1zM202 784h1v1h-1zM203 784h1v1h-1zM204 784h1v1h-1zM208 784h1v1h-1zM209 784h1v1h-1zM210 784h1v1h-1zM214 783h1v1h-1zM215 783h1v1h-1zM216 783h1v1h-1zM220 782h1v1h-1zM221 782h1v1h-1zM222 781h1v1h-1zM226 781h1v1h-1zM227 781h1v1h-1zM228 781h1v1h-1zM232 779h1v1h-1zM233 778h1v1h-1zM234 778h1v1h-1zM238 776h1v1h-1zM239 775h1v1h-1zM240 775h1v1h-1zM244 773h1v1h-1zM245 772h1v1h-1zM246 771h1v1h-1zM250 769h1v1h-1zM251 769h1v1h-1zM252 768h1v1h-1zM256 766h1v1h-1zM257 765h1v1h-1zM258 764h1v1h-1zM262 762h1v1h-1zM263 761h1v1h-1zM264 761h1v1h-1zM268 758h1v1h-1zM269 757h1v1h-1zM270 757h1v1h-1zM274 755h1v1h-1zM275 754h1v1h-1zM276 754h1v1h-1zM280 752h1v1h-1zM281 751h1v1h-1zM282 751h1v1h-1zM286 749h1v1h-1zM287 749h1v1h-1zM288 748h1v1h-1zM292 746h1v1h-1zM293 746h1v1h-1zM294 746h1v1h-1zM298 745h1v1h-1zM299 745h1v1h-1zM300 745h1v1h-1zM304 745h1v1h-1zM305 745h1v1h-1zM306 745h1v1h-1zM310 745h1v1h-1zM311 745h1v1h-1zM312 745h1v1h-1zM316 745h1v1h-1zM317 745h1v1h-1zM318 745h1v1h-1zM322 745h1v1h-1zM323 745h1v1h-1zM324 746h1v1h-1zM328 746h1v1h-1zM329 747h1v1h-1zM330 747h1v1h-1zM334 748h1v1h-1zM335 748h1v1h-1zM336 748h1v1h-1zM340 749h1v1h-1zM341 749h1v1h-1zM342 749h1v1h-1zM346 749h1v1h-1zM347 750h1v1h-1zM348 750h1v1h-1zM352 750h1v1h-1zM353 750h1v1h-1zM354 750h1v1h-1zM358 751h1v1h-1zM359 751h1v1h-1zM360 751h1v1h-1zM364 751h1v1h-1zM365 750h1v1h-1zM366 750h1v1h-1zM370 750h1v1h-1zM371 750h1v1h-1zM372 750h1v1h-1zM376 750h1v1h-1zM377 750h1v1h-1zM378 750h1v1h-1zM382 750h1v1h-1zM383 750h1v1h-1zM384 750h1v1h-1zM388 750h1v1h-1zM389 750h1v1h-1zM390 749h1v1h-1zM394 749h1v1h-1zM395 749h1v1h-1zM396 749h1v1h-1zM400 748h1v1h-1zM401 747h1v1h-1zM402 747h1v1h-1zM406 746h1v1h-1zM407 746h1v1h-1zM408 746h1v1h-1zM412 745h1v1h-1zM413 745h1v1h-1zM414 745h1v1h-1zM418 744h1v1h-1zM419 744h1v1h-1zM420 744h1v1h-1zM424 744h1v1h-1zM425 744h1v1h-1zM426 744h1v1h-1zM430 744h1v1h-1zM431 744h1v1h-1zM432 744h1v1h-1zM436 745h1v1h-1zM437 745h1v1h-1zM438 744h1v1h-1zM442 744h1v1h-1zM443 744h1v1h-1zM444 744h1v1h-1zM448 743h1v1h-1zM449 743h1v1h-1zM450 743h1v1h-1zM454 742h1v1h-1zM455 742h1v1h-1zM456 742h1v1h-1zM460 741h1v1h-1zM461 741h1v1h-1zM462 741h1v1h-1zM466 740h1v1h-1zM467 740h1v1h-1zM468 740h1v1h-1zM472 739h1v1h-1zM473 739h1v1h-1zM474 739h1v1h-1zM478 738h1v1h-1zM479 738h1v1h-1zM480 738h1v1h-1zM484 738h1v1h-1zM485 737h1v1h-1zM486 737h1v1h-1zM490 735h1v1h-1zM491 734h1v1h-1zM492 734h1v1h-1zM496 733h1v1h-1zM497 732h1v1h-1zM498 732h1v1h-1zM502 731h1v1h-1zM503 730h1v1h-1zM504 729h1v1h-1zM508 727h1v1h-1zM509 727h1v1h-1zM510 726h1v1h-1zM514 724h1v1h-1zM515 724h1v1h-1zM516 723h1v1h-1zM520 722h1v1h-1zM521 721h1v1h-1zM522 721h1v1h-1zM526 720h1v1h-1zM527 719h1v1h-1zM528 719h1v1h-1zM532 718h1v1h-1zM533 717h1v1h-1zM534 717h1v1h-1zM538 715h1v1h-1zM539 715h1v1h-1zM540 714h1v1h-1zM544 714h1v1h-1zM545 714h1v1h-1zM546 714h1v1h-1zM550 713h1v1h-1zM551 713h1v1h-1zM552 713h1v1h-1zM556 713h1v1h-1zM557 713h1v1h-1zM558 713h1v1h-1zM562 713h1v1h-1zM563 713h1v1h-1zM564 713h1v1h-1zM568 713h1v1h-1zM569 714h1v1h-1zM570 714h1v1h-1zM574 715h1v1h-1zM575 715h1v1h-1zM576 715h1v1h-1zM580 716h1v1h-1zM581 716h1v1h-1zM582 716h1v1h-1zM586 717h1v1h-1zM587 718h1v1h-1zM588 718h1v1h-1zM592 720h1v1h-1zM593 720h1v1h-1zM594 720h1v1h-1zM598 722h1v1h-1zM599 722h1v1h-1zM600 722h1v1h-1zM604 723h1v1h-1zM605 723h1v1h-1zM606 724h1v1h-1zM610 726h1v1h-1zM611 726h1v1h-1zM612 727h1v1h-1zM616 727h1v1h-1zM617 728h1v1h-1zM618 728h1v1h-1zM622 729h1v1h-1zM623 729h1v1h-1zM624 729h1v1h-1zM628 731h1v1h-1zM629 731h1v1h-1zM630 731h1v1h-1zM634 732h1v1h-1zM635 733h1v1h-1zM636 733h1v1h-1zM640 734h1v1h-1zM641 734h1v1h-1zM642 734h1v1h-1zM646 735h1v1h-1zM647 735h1v1h-1zM648 735h1v1h-1zM652 737h1v1h-1zM653 737h1v1h-1zM654 737h1v1h-1zM658 738h1v1h-1zM659 738h1v1h-1zM660 739h1v1h-1zM664 740h1v1h-1zM665 740h1v1h-1zM666 740h1v1h-1zM670 741h1v1h-1zM671 742h1v1h-1zM672 742h1v1h-1zM676 743h1v1h-1zM677 743h1v1h-1zM678 743h1v1h-1zM682 744h1v1h-1zM683 744h1v1h-1zM684 745h1v1h-1zM688 745h1v1h-1zM689 746h1v1h-1zM690 746h1v1h-1zM694 746h1v1h-1zM695 746h1v1h-1zM696 746h1v1h-1zM700 746h1v1h-1zM701 746h1v1h-1zM702 746h1v1h-1zM706 746h1v1h-1zM707 746h1v1h-1zM708 746h1v1h-1zM712 746h1v1h-1zM713 746h1v1h-1zM714 746h1v1h-1zM718 746h1v1h-1zM719 745h1v1h-1zM720 745h1v1h-1zM724 744h1v1h-1zM725 744h1v1h-1zM726 744h1v1h-1zM730 742h1v1h-1zM731 742h1v1h-1zM732 742h1v1h-1zM736 740h1v1h-1zM737 740h1v1h-1zM738 740h1v1h-1zM742 739h1v1h-1zM743 739h1v1h-1zM744 739h1v1h-1zM748 738h1v1h-1zM749 738h1v1h-1zM750 738h1v1h-1zM754 737h1v1h-1zM755 737h1v1h-1zM756 737h1v1h-1zM760 736h1v1h-1zM761 736h1v1h-1zM762 736h1v1h-1zM766 736h1v1h-1zM767 736h1v1h-1zM768 736h1v1h-1zM772 736h1v1h-1zM773 736h1v1h-1zM774 736h1v1h-1zM778 737h1v1h-1zM779 737h1v1h-1zM780 737h1v1h-1zM784 738h1v1h-1zM785 738h1v1h-1zM786 738h1v1h-1zM790 739h1v1h-1zM791 739h1v1h-1zM792 739h1v1h-1zM796 740h1v1h-1zM797 740h1v1h-1zM798 741h1v1h-1zM802 743h1v1h-1zM803 743h1v1h-1zM804 744h1v1h-1zM808 745h1v1h-1zM809 746h1v1h-1zM810 746h1v1h-1zM814 748h1v1h-1zM815 748h1v1h-1zM816 748h1v1h-1zM820 750h1v1h-1zM821 750h1v1h-1zM822 751h1v1h-1zM826 753h1v1h-1zM827 753h1v1h-1zM828 754h1v1h-1zM832 754h1v1h-1zM833 754h1v1h-1zM834 754h1v1h-1zM838 755h1v1h-1zM839 755h1v1h-1zM840 755h1v1h-1zM844 756h1v1h-1zM845 755h1v1h-1zM846 755h1v1h-1zM850 755h1v1h-1zM851 755h1v1h-1zM852 755h1v1h-1zM856 755h1v1h-1zM857 755h1v1h-1zM858 754h1v1h-1zM862 754h1v1h-1zM863 754h1v1h-1zM864 753h1v1h-1zM868 753h1v1h-1zM869 752h1v1h-1zM870 752h1v1h-1zM874 750h1v1h-1zM875 750h1v1h-1zM876 749h1v1h-1zM880 747h1v1h-1zM881 747h1v1h-1zM882 746h1v1h-1zM886 744h1v1h-1zM887 744h1v1h-1zM888 743h1v1h-1zM892 741h1v1h-1zM893 741h1v1h-1zM894 740h1v1h-1zM898 738h1v1h-1zM899 738h1v1h-1zM900 738h1v1h-1zM904 736h1v1h-1zM905 736h1v1h-1zM906 736h1v1h-1zM910 734h1v1h-1zM911 734h1v1h-1zM912 733h1v1h-1zM916 732h1v1h-1zM917 731h1v1h-1zM918 731h1v1h-1zM922 729h1v1h-1zM923 729h1v1h-1zM924 729h1v1h-1zM928 728h1v1h-1zM929 728h1v1h-1zM930 728h1v1h-1zM934 727h1v1h-1zM935 727h1v1h-1zM936 727h1v1h-1zM940 726h1v1h-1zM941 726h1v1h-1zM942 726h1v1h-1zM946 726h1v1h-1zM947 726h1v1h-1zM948 726h1v1h-1zM952 725h1v1h-1zM953 725h1v1h-1zM954 725h1v1h-1zM958 725h1v1h-1zM959 725h1v1h-1zM960 725h1v1h-1zM964 725h1v1h-1zM965 725h1v1h-1zM966 725h1v1h-1zM970 725h1v1h-1zM971 725h1v1h-1zM972 725h1v1h-1zM976 725h1v1h-1zM977 725h1v1h-1zM978 725h1v1h-1zM982 725h1v1h-1zM983 725h1v1h-1zM984 725h1v1h-1zM988 725h1v1h-1zM989 725h1v1h-1zM990 725h1v1h-1zM994 725h1v1h-1zM995 725h1v1h-1zM996 726h1v1h-1zM1000 726h1v1h-1zM1001 726h1v1h-1zM1002 726h1v1h-1zM1006 726h1v1h-1zM1007 726h1v1h-1zM1008 726h1v1h-1zM1012 726h1v1h-1zM1013 726h1v1h-1zM1014 726h1v1h-1zM1018 726h1v1h-1zM1019 726h1v1h-1zM1020 727h1v1h-1zM1024 727h1v1h-1zM1025 727h1v1h-1zM1026 727h1v1h-1zM1030 727h1v1h-1zM1031 727h1v1h-1zM1032 727h1v1h-1zM1036 727h1v1h-1zM1037 727h1v1h-1zM1038 727h1v1h-1zM1042 727h1v1h-1zM1043 727h1v1h-1zM1044 728h1v1h-1zM1048 728h1v1h-1zM1049 728h1v1h-1zM1050 728h1v1h-1zM1054 729h1v1h-1zM1055 729h1v1h-1zM1056 729h1v1h-1zM1060 730h1v1h-1zM1061 730h1v1h-1zM1062 730h1v1h-1zM1066 730h1v1h-1zM1067 730h1v1h-1zM1068 730h1v1h-1zM1072 731h1v1h-1zM1073 731h1v1h-1zM1074 731h1v1h-1zM1078 732h1v1h-1zM1079 732h1v1h-1zM1080 732h1v1h-1zM1084 733h1v1h-1zM1085 733h1v1h-1zM1086 733h1v1h-1zM1090 734h1v1h-1zM1091 735h1v1h-1zM1092 735h1v1h-1zM1096 737h1v1h-1zM1097 737h1v1h-1zM1098 738h1v1h-1zM1102 740h1v1h-1zM1103 740h1v1h-1zM1104 741h1v1h-1zM1108 743h1v1h-1zM1109 743h1v1h-1zM1110 744h1v1h-1zM1114 746h1v1h-1zM1115 746h1v1h-1zM1116 747h1v1h-1zM1120 749h1v1h-1zM1121 749h1v1h-1zM1122 750h1v1h-1zM1126 752h1v1h-1zM1127 753h1v1h-1zM1128 753h1v1h-1zM1132 755h1v1h-1zM1133 756h1v1h-1zM1134 756h1v1h-1zM1138 758h1v1h-1zM1139 759h1v1h-1zM1140 759h1v1h-1zM1144 761h1v1h-1zM1145 762h1v1h-1zM1146 762h1v1h-1zM1150 765h1v1h-1zM1151 765h1v1h-1zM1152 766h1v1h-1zM1156 768h1v1h-1zM1157 769h1v1h-1zM1158 769h1v1h-1zM1162 771h1v1h-1zM1163 772h1v1h-1zM1164 773h1v1h-1zM1168 775h1v1h-1zM1169 775h1v1h-1zM1170 776h1v1h-1zM1174 778h1v1h-1zM1175 778h1v1h-1zM1176 779h1v1h-1zM1180 781h1v1h-1zM1181 781h1v1h-1zM1182 782h1v1h-1zM1186 784h1v1h-1zM1187 784h1v1h-1zM1188 785h1v1h-1zM1192 786h1v1h-1zM1193 787h1v1h-1zM1194 787h1v1h-1zM1198 789h1v1h-1zM1199 789h1v1h-1zM1200 789h1v1h-1zM1204 791h1v1h-1zM1205 791h1v1h-1zM1206 791h1v1h-1zM1210 792h1v1h-1zM1211 793h1v1h-1zM1212 793h1v1h-1zM1216 794h1v1h-1zM1217 794h1v1h-1zM1218 794h1v1h-1zM1222 795h1v1h-1zM1223 795h1v1h-1zM1224 795h1v1h-1zM1228 796h1v1h-1zM1229 796h1v1h-1zM1230 796h1v1h-1zM1234 796h1v1h-1zM1235 796h1v1h-1zM1236 796h1v1h-1zM1240 796h1v1h-1zM1241 796h1v1h-1zM1242 796h1v1h-1zM1246 795h1v1h-1zM1247 795h1v1h-1zM1248 795h1v1h-1zM1252 794h1v1h-1zM1253 794h1v1h-1zM1254 793h1v1h-1zM1258 793h1v1h-1zM1259 793h1v1h-1zM1260 793h1v1h-1zM1264 792h1v1h-1zM1265 792h1v1h-1zM1266 792h1v1h-1zM1270 791h1v1h-1zM1271 790h1v1h-1zM1272 790h1v1h-1zM1276 789h1v1h-1zM1277 789h1v1h-1zM1278 789h1v1h-1zM1282 787h1v1h-1zM1283 787h1v1h-1zM1284 787h1v1h-1zM1288 786h1v1h-1zM1289 785h1v1h-1zM1290 785h1v1h-1zM1294 784h1v1h-1zM1295 784h1v1h-1zM1296 783h1v1h-1zM1300 782h1v1h-1zM1301 781h1v1h-1zM1302 781h1v1h-1zM1306 779h1v1h-1zM1307 779h1v1h-1zM1308 779h1v1h-1zM1312 777h1v1h-1zM1313 777h1v1h-1zM1314 776h1v1h-1zM1318 775h1v1h-1zM1319 775h1v1h-1zM1320 775h1v1h-1zM1324 774h1v1h-1zM1325 773h1v1h-1zM1326 773h1v1h-1zM1330 771h1v1h-1zM1331 771h1v1h-1zM1332 771h1v1h-1z" fill="#ff0000"/>
<rect x="1685" y="704" width="1" height="1" fill="#000"/>
<text transform="translate(1688,713) scale(0.925,1)" xml:space="preserve">0.002074</text>
<rect x="1685" y="719" width="1" height="1" fill="#000"/>
<text transform="translate(1688,723) scale(0.925,1)" xml:space="preserve">0.00</text>
<rect x="1685" y="804" width="1" height="1" fill="#000"/>
<text transform="translate(1688,803) scale(0.925,1)" xml:space="preserve">-0.011462</text>
<rect x="4" y="806" width="1" height="3" fill="#000"/>
<text x="3.5" y="818" textLength="53.7" lengthAdjust="spacingAndGlyphs">18 Nov 2020</text>
<rect x="68" y="806" width="1" height="3" fill="#000"/>
<text x="67.5" y="818" textLength="54.8" lengthAdjust="spacingAndGlyphs">27 Nov 2020</text>
<rect x="132" y="806" width="1" height="3" fill="#000"/>
<text x="131.5" y="818" textLength="47.6" lengthAdjust="spacingAndGlyphs">7 Dec 2020</text>
<rect x="196" y="806" width="1" height="3" fill="#000"/>
<text x="195.5" y="818" textLength="51.5" lengthAdjust="spacingAndGlyphs">16 Dec 2020</text>
<rect x="260" y="806" width="1" height="3" fill="#000"/>
<text x="259.5" y="818" textLength="51.5" lengthAdjust="spacingAndGlyphs">25 Dec 2020</text>
<rect x="324" y="806" width="1" height="3" fill="#000"/>
<text x="323.5" y="818" textLength="44.9" lengthAdjust="spacingAndGlyphs">6 Jan 2021</text>
<rect x="388" y="806" width="1" height="3" fill="#000"/>
<text x="387.5" y="818" textLength="48.9" lengthAdjust="spacingAndGlyphs">15 Jan 2021</text>
<rect x="452" y="806" width="1" height="3" fill="#000"/>
<text x="451.5" y="818" textLength="50.2" lengthAdjust="spacingAndGlyphs">25 Jan 2021</text>
<rect x="516" y="806" width="1" height="3" fill="#000"/>
<text x="515.5" y="818" textLength="46.8" lengthAdjust="spacingAndGlyphs">3 Feb 2021</text>
<rect x="580" y="806" width="1" height="3" fill="#000"/>
<text x="579.5" y="818" textLength="50.9" lengthAdjust="spacingAndGlyphs">12 Feb 2021</text>
<rect x="644" y="806" width="1" height="3" fill="#000"/>
<text x="643.5" y="818" textLength="51.5" lengthAdjust="spacingAndGlyphs">22 Feb 2021</text>
<rect x="708" y="806" width="1" height="3" fill="#000"/>
<text x="707.5" y="818" textLength="46.8" lengthAdjust="spacingAndGlyphs">3 Mar 2021</text>
<rect x="772" y="806" width="1" height="3" fill="#000"/>
<text x="771.5" y="818" textLength="51.1" lengthAdjust="spacingAndGlyphs">12 Mar 2021</text>
<rect x="836" y="806" width="1" height="3" fill="#000"/>
<text x="835.5" y="818" textLength="51.6" lengthAdjust="spacingAndGlyphs">22 Mar 2021</text>
<rect x="900" y="806" width="1" height="3" fill="#000"/>
<text x="899.5" y="818" textLength="52.1" lengthAdjust="spacingAndGlyphs">31 Mar 2021</text>
<rect x="964" y="806" width="1" height="3" fill="#000"/>
<text x="963.5" y="818" textLength="45.7" lengthAdjust="spacingAndGlyphs">9 Apr 2021</text>
<rect x="1028" y="806" width="1" height="3" fill="#000"/>
<text x="1027.5" y="818" textLength="50.5" lengthAdjust="spacingAndGlyphs">19 Apr 2021</text>
<rect x="1092" y="806" width="1" height="3" fill="#000"/>
<text x="1091.5" y="818" textLength="51.0" lengthAdjust="spacingAndGlyphs">28 Apr 2021</text>
<rect x="1156" y="806" width="1" height="3" fill="#000"/>
<text x="1155.5" y="818" textLength="50.2" lengthAdjust="spacingAndGlyphs">7 May 2021</text>
<rect x="1220" y="806" width="1" height="3" fill="#000"/>
<text x="1219.5" y="818" textLength="54.2" lengthAdjust="spacingAndGlyphs">17 May 2021</text>
<rect x="1284" y="806" width="1" height="3" fill="#000"/>
<text x="1283.5" y="818" textLength="54.8" lengthAdjust="spacingAndGlyphs">26 May 2021</text>
<rect x="0" y="826" width="1726" height="1" fill="#e3e3e3"/>
<rect x="0" y="828" width="1726" height="1" fill="#000"/>
</svg>
<div id="tb">
<svg width="400" height="22" viewBox="0 0 400 22" shape-rendering="crispEdges">
<rect x="0" y="20" width="20" height="1" fill="#a0a0a0"/><rect x="19" y="0" width="1" height="21" fill="#a0a0a0"/>
<line x1="1" y1="2.5" x2="13" y2="2.5" stroke="#000" stroke-width="1" stroke-dasharray="1,1"/>
<line x1="1" y1="5.5" x2="13" y2="5.5" stroke="#000" stroke-width="1" stroke-dasharray="1,1"/>
<line x1="1" y1="9.5" x2="13" y2="9.5" stroke="#000" stroke-width="1" stroke-dasharray="1,1"/>
<line x1="1" y1="13.5" x2="9" y2="13.5" stroke="#000" stroke-width="1" stroke-dasharray="1,1"/>
<text x="8.5" y="18" style="font-size:7.5px;font-weight:bold;fill:#000;opacity:.99">F</text>
<text transform="translate(30.9,15) scale(0.8,1)" style="font-size:13px;font-weight:bold;fill:#505050;opacity:.99">A</text>
<rect x="57.5" y="4.5" width="11" height="12" fill="none" stroke="#505050" stroke-width="1" stroke-dasharray="1,1"/>
<rect x="56" y="3" width="2" height="1" fill="#505050"/>
<text x="59.9" y="14.7" style="font-size:11px;font-weight:bold;fill:#505050;opacity:.99">T</text>
<g shape-rendering="auto" fill="#505050"><polygon points="87.5,3.4 91.3,7.2 89.7,8.1 85.3,8.1 83.9,7.2"/><polygon points="90.7,13.5 92.2,12 96.7,12 98.1,13.5 94.5,17.2"/><polyline points="85.8,11.2 88.1,13.3 93,8.3" fill="none" stroke="#505050" stroke-width="1.5"/></g>
<polygon points="104.6,9 110.4,9 107.5,12" fill="#000" shape-rendering="auto"/>
<rect x="116" y="0" width="1" height="22" fill="#a0a0a0"/><rect x="117" y="0" width="1" height="22" fill="#fff"/>
<line x1="121.5" y1="0" x2="121.5" y2="19" stroke="#a0a0a0" stroke-width="3" stroke-dasharray="1,1"/>
<defs><pattern id="chk" width="2" height="2" patternUnits="userSpaceOnUse"><rect width="2" height="2" fill="#f0f0f0"/><rect width="1" height="1" fill="#fff"/><rect x="1" y="1" width="1" height="1" fill="#fff"/></pattern></defs>
<rect x="295" y="0" width="24" height="20" fill="url(#chk)"/><rect x="294" y="0" width="1" height="20" fill="#808080"/><rect x="294" y="20" width="26" height="1" fill="#fff"/><rect x="319" y="0" width="1" height="21" fill="#fff"/>
<rect x="377" y="0" width="1" height="22" fill="#a0a0a0"/><rect x="378" y="0" width="1" height="22" fill="#fff"/>
<text transform="translate(131.4,14) scale(0.94,1)" xml:space="preserve" style="fill:#444">M1</text>
<text transform="translate(159.4,14) scale(0.94,1)" xml:space="preserve" style="fill:#444">M5</text>
<text transform="translate(185.4,14) scale(0.94,1)" xml:space="preserve" style="fill:#444">M15</text>
<text transform="translate(213.4,14) scale(0.94,1)" xml:space="preserve" style="fill:#444">M30</text>
<text transform="translate(244.5,14) scale(0.94,1)" xml:space="preserve" style="fill:#444">H1</text>
<text transform="translate(271.7,14) scale(0.94,1)" xml:space="preserve" style="fill:#444">H4</text>
<text transform="translate(300.6,14) scale(0.94,1)" xml:space="preserve" style="fill:#444">D1</text>
<text transform="translate(328.5,14) scale(0.94,1)" xml:space="preserve" style="fill:#444">W1</text>
<text transform="translate(354.5,14) scale(0.94,1)" xml:space="preserve" style="fill:#444">MN</text>
</svg>
</div>
<div id="tabs">
<div style="position:absolute;left:0;top:19px;width:1726px;height:1px;background:#fff"></div>
<div style="position:absolute;left:0;top:0;width:1726px;height:1px;background:#fff"></div>
<div style="position:absolute;left:416px;top:0;width:1px;height:19px;background:#fff"></div>
<div style="position:absolute;left:0;top:0;width:1px;height:18px;background:#696969"></div>
<div style="position:absolute;left:1px;top:0;width:1px;height:18px;background:#fff"></div>
<span class="t" style="left:15px">USDCHF,Daily</span>
<span class="t" style="left:115px">USDCNH,Daily</span>
<span class="t" style="left:221px">EURUSD,Daily</span>
<span class="t" style="left:324px">AUDUSD,Daily</span>
<span class="t" style="left:532px">XAUUSD,H1</span>
<span class="t" style="left:623px">USOil,H4</span>
<div class="sep" style="left:105px"></div>
<div class="sep" style="left:209px"></div>
<div class="sep" style="left:313px"></div>
<div class="sep" style="left:613px"></div>
<div class="sep" style="left:685px"></div>
<div style="position:absolute;left:417px;top:-1px;width:102px;height:18px;background:#fff;border:1px solid #000;border-top:none;"></div>
<span class="t" style="left:428px;color:#000">USDCAD,Daily</span>
<svg width="30" height="12" style="left:1696px;top:3px" viewBox="0 0 30 12"><polygon points="7.2,1.5 7.2,8.5 3.6,5" fill="#a0a0a0"/><polygon points="22.6,1.5 22.6,8.5 26.2,5" fill="#a0a0a0"/></svg>
</div>
</body></html>
